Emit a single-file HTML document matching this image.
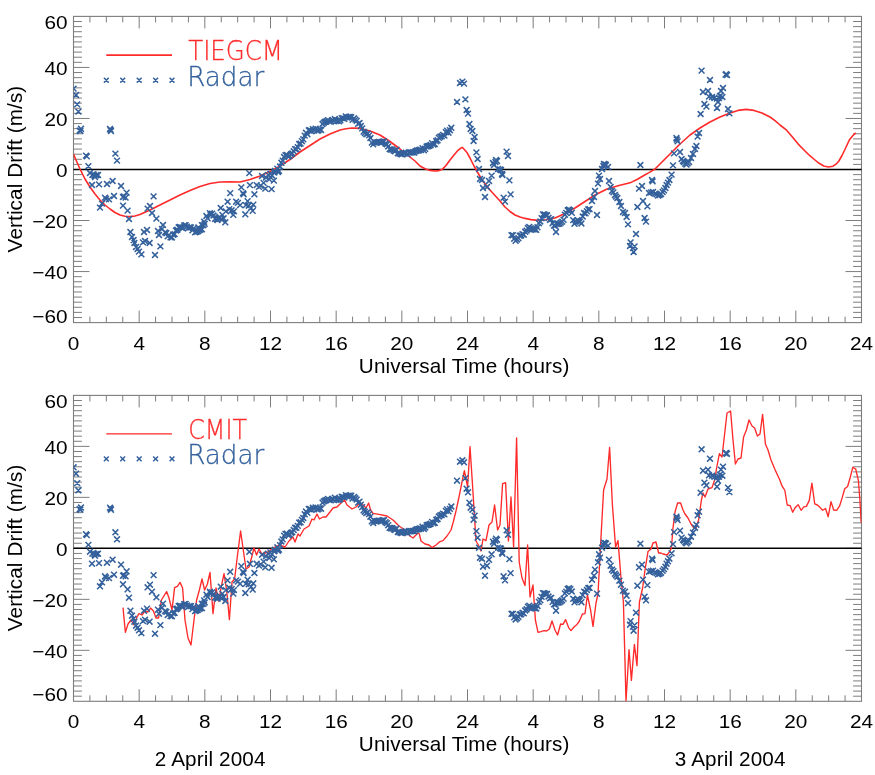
<!DOCTYPE html>
<html lang="en"><head><meta charset="utf-8"><title>Vertical Drift: TIEGCM / CMIT vs Radar</title>
<style>
html,body{margin:0;padding:0;background:#fff}
body{width:875px;height:775px;overflow:hidden}
svg{display:block}
text{font-family:"Liberation Sans",sans-serif;fill:#000}
.t{font-size:18.4px}
.l{font-size:20.7px;letter-spacing:0.12px}
.g{font-family:"DejaVu Sans Light","DejaVu Sans","Liberation Sans",sans-serif;font-weight:200;font-size:26px;stroke-width:0.28px}
</style></head><body>
<svg width="875" height="775" viewBox="0 0 875 775">
<rect width="875" height="775" fill="#fff"/>
<defs><clipPath id="c1"><rect x="73.5" y="16.4" width="788.0" height="306.20000000000005"/></clipPath><clipPath id="c2"><rect x="73.5" y="395.4" width="788.0" height="305.90000000000003"/></clipPath></defs>
<rect x="73.5" y="16.4" width="788.0" height="306.20000000000005" fill="none" stroke="#7d7d7d" stroke-width="1.1"/>
<path d="M89.92 16.4v6M89.92 322.6v-6M106.33 16.4v6M106.33 322.6v-6M122.75 16.4v6M122.75 322.6v-6M139.17 16.4v12M139.17 322.6v-12M155.58 16.4v6M155.58 322.6v-6M172.00 16.4v6M172.00 322.6v-6M188.42 16.4v6M188.42 322.6v-6M204.83 16.4v12M204.83 322.6v-12M221.25 16.4v6M221.25 322.6v-6M237.67 16.4v6M237.67 322.6v-6M254.08 16.4v6M254.08 322.6v-6M270.50 16.4v12M270.50 322.6v-12M286.92 16.4v6M286.92 322.6v-6M303.33 16.4v6M303.33 322.6v-6M319.75 16.4v6M319.75 322.6v-6M336.17 16.4v12M336.17 322.6v-12M352.58 16.4v6M352.58 322.6v-6M369.00 16.4v6M369.00 322.6v-6M385.42 16.4v6M385.42 322.6v-6M401.83 16.4v12M401.83 322.6v-12M418.25 16.4v6M418.25 322.6v-6M434.67 16.4v6M434.67 322.6v-6M451.08 16.4v6M451.08 322.6v-6M467.50 16.4v12M467.50 322.6v-12M483.92 16.4v6M483.92 322.6v-6M500.33 16.4v6M500.33 322.6v-6M516.75 16.4v6M516.75 322.6v-6M533.17 16.4v12M533.17 322.6v-12M549.58 16.4v6M549.58 322.6v-6M566.00 16.4v6M566.00 322.6v-6M582.42 16.4v6M582.42 322.6v-6M598.83 16.4v12M598.83 322.6v-12M615.25 16.4v6M615.25 322.6v-6M631.67 16.4v6M631.67 322.6v-6M648.08 16.4v6M648.08 322.6v-6M664.50 16.4v12M664.50 322.6v-12M680.92 16.4v6M680.92 322.6v-6M697.33 16.4v6M697.33 322.6v-6M713.75 16.4v6M713.75 322.6v-6M730.17 16.4v12M730.17 322.6v-12M746.58 16.4v6M746.58 322.6v-6M763.00 16.4v6M763.00 322.6v-6M779.42 16.4v6M779.42 322.6v-6M795.83 16.4v12M795.83 322.6v-12M812.25 16.4v6M812.25 322.6v-6M828.67 16.4v6M828.67 322.6v-6M845.08 16.4v6M845.08 322.6v-6M73.5 317.50h8.4M861.5 317.50h-8.4M73.5 312.39h8.4M861.5 312.39h-8.4M73.5 307.29h8.4M861.5 307.29h-8.4M73.5 302.19h8.4M861.5 302.19h-8.4M73.5 297.08h8.4M861.5 297.08h-8.4M73.5 291.98h8.4M861.5 291.98h-8.4M73.5 286.88h8.4M861.5 286.88h-8.4M73.5 281.77h8.4M861.5 281.77h-8.4M73.5 276.67h8.4M861.5 276.67h-8.4M73.5 271.57h16M861.5 271.57h-16M73.5 266.46h8.4M861.5 266.46h-8.4M73.5 261.36h8.4M861.5 261.36h-8.4M73.5 256.26h8.4M861.5 256.26h-8.4M73.5 251.15h8.4M861.5 251.15h-8.4M73.5 246.05h8.4M861.5 246.05h-8.4M73.5 240.95h8.4M861.5 240.95h-8.4M73.5 235.84h8.4M861.5 235.84h-8.4M73.5 230.74h8.4M861.5 230.74h-8.4M73.5 225.64h8.4M861.5 225.64h-8.4M73.5 220.53h16M861.5 220.53h-16M73.5 215.43h8.4M861.5 215.43h-8.4M73.5 210.33h8.4M861.5 210.33h-8.4M73.5 205.22h8.4M861.5 205.22h-8.4M73.5 200.12h8.4M861.5 200.12h-8.4M73.5 195.02h8.4M861.5 195.02h-8.4M73.5 189.91h8.4M861.5 189.91h-8.4M73.5 184.81h8.4M861.5 184.81h-8.4M73.5 179.71h8.4M861.5 179.71h-8.4M73.5 174.60h8.4M861.5 174.60h-8.4M73.5 169.50h16M861.5 169.50h-16M73.5 164.40h8.4M861.5 164.40h-8.4M73.5 159.29h8.4M861.5 159.29h-8.4M73.5 154.19h8.4M861.5 154.19h-8.4M73.5 149.09h8.4M861.5 149.09h-8.4M73.5 143.98h8.4M861.5 143.98h-8.4M73.5 138.88h8.4M861.5 138.88h-8.4M73.5 133.78h8.4M861.5 133.78h-8.4M73.5 128.67h8.4M861.5 128.67h-8.4M73.5 123.57h8.4M861.5 123.57h-8.4M73.5 118.47h16M861.5 118.47h-16M73.5 113.36h8.4M861.5 113.36h-8.4M73.5 108.26h8.4M861.5 108.26h-8.4M73.5 103.16h8.4M861.5 103.16h-8.4M73.5 98.05h8.4M861.5 98.05h-8.4M73.5 92.95h8.4M861.5 92.95h-8.4M73.5 87.85h8.4M861.5 87.85h-8.4M73.5 82.74h8.4M861.5 82.74h-8.4M73.5 77.64h8.4M861.5 77.64h-8.4M73.5 72.54h8.4M861.5 72.54h-8.4M73.5 67.43h16M861.5 67.43h-16M73.5 62.33h8.4M861.5 62.33h-8.4M73.5 57.23h8.4M861.5 57.23h-8.4M73.5 52.12h8.4M861.5 52.12h-8.4M73.5 47.02h8.4M861.5 47.02h-8.4M73.5 41.92h8.4M861.5 41.92h-8.4M73.5 36.81h8.4M861.5 36.81h-8.4M73.5 31.71h8.4M861.5 31.71h-8.4M73.5 26.61h8.4M861.5 26.61h-8.4M73.5 21.50h8.4M861.5 21.50h-8.4" fill="none" stroke="#7d7d7d" stroke-width="1"/>
<path d="M73.5 169.50H861.5" stroke="#000" stroke-width="1.5"/>
<text transform="translate(67.6 322.6) scale(1.13 1)" text-anchor="end" class="t">−60</text>
<text transform="translate(67.6 279.4) scale(1.13 1)" text-anchor="end" class="t">−40</text>
<text transform="translate(67.6 228.3) scale(1.13 1)" text-anchor="end" class="t">−20</text>
<text transform="translate(67.6 177.3) scale(1.13 1)" text-anchor="end" class="t">0</text>
<text transform="translate(67.6 126.3) scale(1.13 1)" text-anchor="end" class="t">20</text>
<text transform="translate(67.6 75.2) scale(1.13 1)" text-anchor="end" class="t">40</text>
<text transform="translate(67.6 29.2) scale(1.13 1)" text-anchor="end" class="t">60</text>
<text transform="translate(73.5 349.5) scale(1.13 1)" text-anchor="middle" class="t">0</text>
<text transform="translate(139.2 349.5) scale(1.13 1)" text-anchor="middle" class="t">4</text>
<text transform="translate(204.8 349.5) scale(1.13 1)" text-anchor="middle" class="t">8</text>
<text transform="translate(270.5 349.5) scale(1.13 1)" text-anchor="middle" class="t">12</text>
<text transform="translate(336.2 349.5) scale(1.13 1)" text-anchor="middle" class="t">16</text>
<text transform="translate(401.8 349.5) scale(1.13 1)" text-anchor="middle" class="t">20</text>
<text transform="translate(467.5 349.5) scale(1.13 1)" text-anchor="middle" class="t">24</text>
<text transform="translate(533.2 349.5) scale(1.13 1)" text-anchor="middle" class="t">4</text>
<text transform="translate(598.8 349.5) scale(1.13 1)" text-anchor="middle" class="t">8</text>
<text transform="translate(664.5 349.5) scale(1.13 1)" text-anchor="middle" class="t">12</text>
<text transform="translate(730.2 349.5) scale(1.13 1)" text-anchor="middle" class="t">16</text>
<text transform="translate(795.8 349.5) scale(1.13 1)" text-anchor="middle" class="t">20</text>
<text transform="translate(861.5 349.5) scale(1.13 1)" text-anchor="middle" class="t">24</text>
<text transform="translate(22 169.0) rotate(-90)" text-anchor="middle" class="l">Vertical Drift (m/s)</text>
<text x="464.2" y="372.6" text-anchor="middle" class="l">Universal Time (hours)</text>
<rect x="73.5" y="395.4" width="788.0" height="305.9000000000001" fill="none" stroke="#7d7d7d" stroke-width="1.1"/>
<path d="M89.92 395.4v6M89.92 701.3000000000001v-6M106.33 395.4v6M106.33 701.3000000000001v-6M122.75 395.4v6M122.75 701.3000000000001v-6M139.17 395.4v12M139.17 701.3000000000001v-12M155.58 395.4v6M155.58 701.3000000000001v-6M172.00 395.4v6M172.00 701.3000000000001v-6M188.42 395.4v6M188.42 701.3000000000001v-6M204.83 395.4v12M204.83 701.3000000000001v-12M221.25 395.4v6M221.25 701.3000000000001v-6M237.67 395.4v6M237.67 701.3000000000001v-6M254.08 395.4v6M254.08 701.3000000000001v-6M270.50 395.4v12M270.50 701.3000000000001v-12M286.92 395.4v6M286.92 701.3000000000001v-6M303.33 395.4v6M303.33 701.3000000000001v-6M319.75 395.4v6M319.75 701.3000000000001v-6M336.17 395.4v12M336.17 701.3000000000001v-12M352.58 395.4v6M352.58 701.3000000000001v-6M369.00 395.4v6M369.00 701.3000000000001v-6M385.42 395.4v6M385.42 701.3000000000001v-6M401.83 395.4v12M401.83 701.3000000000001v-12M418.25 395.4v6M418.25 701.3000000000001v-6M434.67 395.4v6M434.67 701.3000000000001v-6M451.08 395.4v6M451.08 701.3000000000001v-6M467.50 395.4v12M467.50 701.3000000000001v-12M483.92 395.4v6M483.92 701.3000000000001v-6M500.33 395.4v6M500.33 701.3000000000001v-6M516.75 395.4v6M516.75 701.3000000000001v-6M533.17 395.4v12M533.17 701.3000000000001v-12M549.58 395.4v6M549.58 701.3000000000001v-6M566.00 395.4v6M566.00 701.3000000000001v-6M582.42 395.4v6M582.42 701.3000000000001v-6M598.83 395.4v12M598.83 701.3000000000001v-12M615.25 395.4v6M615.25 701.3000000000001v-6M631.67 395.4v6M631.67 701.3000000000001v-6M648.08 395.4v6M648.08 701.3000000000001v-6M664.50 395.4v12M664.50 701.3000000000001v-12M680.92 395.4v6M680.92 701.3000000000001v-6M697.33 395.4v6M697.33 701.3000000000001v-6M713.75 395.4v6M713.75 701.3000000000001v-6M730.17 395.4v12M730.17 701.3000000000001v-12M746.58 395.4v6M746.58 701.3000000000001v-6M763.00 395.4v6M763.00 701.3000000000001v-6M779.42 395.4v6M779.42 701.3000000000001v-6M795.83 395.4v12M795.83 701.3000000000001v-12M812.25 395.4v6M812.25 701.3000000000001v-6M828.67 395.4v6M828.67 701.3000000000001v-6M845.08 395.4v6M845.08 701.3000000000001v-6M73.5 696.20h8.4M861.5 696.20h-8.4M73.5 691.10h8.4M861.5 691.10h-8.4M73.5 686.01h8.4M861.5 686.01h-8.4M73.5 680.91h8.4M861.5 680.91h-8.4M73.5 675.81h8.4M861.5 675.81h-8.4M73.5 670.71h8.4M861.5 670.71h-8.4M73.5 665.61h8.4M861.5 665.61h-8.4M73.5 660.51h8.4M861.5 660.51h-8.4M73.5 655.42h8.4M861.5 655.42h-8.4M73.5 650.32h16M861.5 650.32h-16M73.5 645.22h8.4M861.5 645.22h-8.4M73.5 640.12h8.4M861.5 640.12h-8.4M73.5 635.02h8.4M861.5 635.02h-8.4M73.5 629.92h8.4M861.5 629.92h-8.4M73.5 624.83h8.4M861.5 624.83h-8.4M73.5 619.73h8.4M861.5 619.73h-8.4M73.5 614.63h8.4M861.5 614.63h-8.4M73.5 609.53h8.4M861.5 609.53h-8.4M73.5 604.43h8.4M861.5 604.43h-8.4M73.5 599.33h16M861.5 599.33h-16M73.5 594.24h8.4M861.5 594.24h-8.4M73.5 589.14h8.4M861.5 589.14h-8.4M73.5 584.04h8.4M861.5 584.04h-8.4M73.5 578.94h8.4M861.5 578.94h-8.4M73.5 573.84h8.4M861.5 573.84h-8.4M73.5 568.74h8.4M861.5 568.74h-8.4M73.5 563.64h8.4M861.5 563.64h-8.4M73.5 558.55h8.4M861.5 558.55h-8.4M73.5 553.45h8.4M861.5 553.45h-8.4M73.5 548.35h16M861.5 548.35h-16M73.5 543.25h8.4M861.5 543.25h-8.4M73.5 538.15h8.4M861.5 538.15h-8.4M73.5 533.06h8.4M861.5 533.06h-8.4M73.5 527.96h8.4M861.5 527.96h-8.4M73.5 522.86h8.4M861.5 522.86h-8.4M73.5 517.76h8.4M861.5 517.76h-8.4M73.5 512.66h8.4M861.5 512.66h-8.4M73.5 507.56h8.4M861.5 507.56h-8.4M73.5 502.47h8.4M861.5 502.47h-8.4M73.5 497.37h16M861.5 497.37h-16M73.5 492.27h8.4M861.5 492.27h-8.4M73.5 487.17h8.4M861.5 487.17h-8.4M73.5 482.07h8.4M861.5 482.07h-8.4M73.5 476.97h8.4M861.5 476.97h-8.4M73.5 471.88h8.4M861.5 471.88h-8.4M73.5 466.78h8.4M861.5 466.78h-8.4M73.5 461.68h8.4M861.5 461.68h-8.4M73.5 456.58h8.4M861.5 456.58h-8.4M73.5 451.48h8.4M861.5 451.48h-8.4M73.5 446.38h16M861.5 446.38h-16M73.5 441.28h8.4M861.5 441.28h-8.4M73.5 436.19h8.4M861.5 436.19h-8.4M73.5 431.09h8.4M861.5 431.09h-8.4M73.5 425.99h8.4M861.5 425.99h-8.4M73.5 420.89h8.4M861.5 420.89h-8.4M73.5 415.79h8.4M861.5 415.79h-8.4M73.5 410.69h8.4M861.5 410.69h-8.4M73.5 405.60h8.4M861.5 405.60h-8.4M73.5 400.50h8.4M861.5 400.50h-8.4" fill="none" stroke="#7d7d7d" stroke-width="1"/>
<path d="M73.5 548.35H861.5" stroke="#000" stroke-width="1.5"/>
<text transform="translate(67.6 701.3) scale(1.13 1)" text-anchor="end" class="t">−60</text>
<text transform="translate(67.6 658.1) scale(1.13 1)" text-anchor="end" class="t">−40</text>
<text transform="translate(67.6 607.1) scale(1.13 1)" text-anchor="end" class="t">−20</text>
<text transform="translate(67.6 556.1) scale(1.13 1)" text-anchor="end" class="t">0</text>
<text transform="translate(67.6 505.2) scale(1.13 1)" text-anchor="end" class="t">20</text>
<text transform="translate(67.6 454.2) scale(1.13 1)" text-anchor="end" class="t">40</text>
<text transform="translate(67.6 408.2) scale(1.13 1)" text-anchor="end" class="t">60</text>
<text transform="translate(73.5 728.2) scale(1.13 1)" text-anchor="middle" class="t">0</text>
<text transform="translate(139.2 728.2) scale(1.13 1)" text-anchor="middle" class="t">4</text>
<text transform="translate(204.8 728.2) scale(1.13 1)" text-anchor="middle" class="t">8</text>
<text transform="translate(270.5 728.2) scale(1.13 1)" text-anchor="middle" class="t">12</text>
<text transform="translate(336.2 728.2) scale(1.13 1)" text-anchor="middle" class="t">16</text>
<text transform="translate(401.8 728.2) scale(1.13 1)" text-anchor="middle" class="t">20</text>
<text transform="translate(467.5 728.2) scale(1.13 1)" text-anchor="middle" class="t">24</text>
<text transform="translate(533.2 728.2) scale(1.13 1)" text-anchor="middle" class="t">4</text>
<text transform="translate(598.8 728.2) scale(1.13 1)" text-anchor="middle" class="t">8</text>
<text transform="translate(664.5 728.2) scale(1.13 1)" text-anchor="middle" class="t">12</text>
<text transform="translate(730.2 728.2) scale(1.13 1)" text-anchor="middle" class="t">16</text>
<text transform="translate(795.8 728.2) scale(1.13 1)" text-anchor="middle" class="t">20</text>
<text transform="translate(861.5 728.2) scale(1.13 1)" text-anchor="middle" class="t">24</text>
<text transform="translate(22 547.9) rotate(-90)" text-anchor="middle" class="l">Vertical Drift (m/s)</text>
<text x="464.2" y="751.3" text-anchor="middle" class="l">Universal Time (hours)</text>
<path clip-path="url(#c1)" d="M73.5 154.0L76.0 160.0L80.0 169.0L85.0 179.0L90.0 187.0L95.0 194.0L100.0 200.0L105.0 205.0L110.0 209.0L115.0 212.5L120.0 215.0L125.0 216.3L130.0 216.6L135.0 216.0L140.0 214.5L150.0 210.0L160.0 205.0L170.0 200.0L180.0 195.0L190.0 190.5L200.0 186.5L210.0 183.5L220.0 182.0L230.0 181.8L240.0 182.0L250.0 179.5L260.0 176.0L270.0 171.5L280.0 166.0L290.0 159.5L300.0 152.0L310.0 145.5L320.0 139.0L330.0 134.0L340.0 130.0L346.0 128.8L352.0 128.0L360.0 128.4L370.0 131.0L380.0 135.0L390.0 141.5L400.0 149.0L410.0 157.0L415.0 161.0L420.0 166.0L425.0 168.8L430.0 170.4L435.0 171.0L439.0 170.6L442.0 169.6L446.0 165.5L450.0 160.0L454.0 155.0L458.0 150.3L460.5 148.3L462.0 147.3L463.4 148.4L467.0 152.6L470.0 158.0L474.0 166.0L478.0 173.0L482.0 180.0L486.0 185.0L490.0 190.0L495.0 195.5L500.0 201.0L505.0 207.0L510.0 211.5L515.0 215.0L520.0 217.0L525.0 218.4L531.0 219.6L538.0 220.4L546.0 219.8L555.0 218.0L565.0 213.5L575.0 208.0L585.0 201.5L595.0 195.0L601.0 192.0L607.0 189.0L613.0 187.2L619.0 185.6L625.0 184.0L631.0 182.4L637.0 179.5L643.0 176.0L649.0 172.6L655.0 169.0L660.0 164.0L670.0 154.0L680.0 144.0L690.0 135.0L700.0 128.0L710.0 122.0L720.0 117.0L730.0 113.0L738.0 110.4L746.0 109.4L754.0 110.4L762.0 113.0L770.0 117.0L775.0 120.7L780.0 125.0L786.6 130.2L792.0 136.5L798.2 144.1L804.0 150.0L809.8 155.7L815.0 160.0L819.1 163.3L823.8 166.0L828.4 167.0L833.0 166.2L836.0 164.2L838.9 161.0L842.0 155.5L844.7 150.0L847.0 145.0L849.3 140.0L852.5 136.0L855.7 132.9" fill="none" stroke="#ff2a2a" stroke-width="1.6" stroke-linejoin="round"/>
<path clip-path="url(#c1)" d="M70.7 85.7l5.8 5.8m0 -5.8l-5.8 5.8M73.1 92.1l5.8 5.8m0 -5.8l-5.8 5.8M74.3 101.5l5.8 5.8m0 -5.8l-5.8 5.8M75.5 108.7l5.8 5.8m0 -5.8l-5.8 5.8M76.7 127.7l5.8 5.8m0 -5.8l-5.8 5.8M78.1 125.9l5.8 5.8m0 -5.8l-5.8 5.8M77.5 128.1l5.8 5.8m0 -5.8l-5.8 5.8M83.1 152.7l5.8 5.8m0 -5.8l-5.8 5.8M83.9 153.5l5.8 5.8m0 -5.8l-5.8 5.8M85.5 163.3l5.8 5.8m0 -5.8l-5.8 5.8M87.1 170.1l5.8 5.8m0 -5.8l-5.8 5.8M89.5 172.1l5.8 5.8m0 -5.8l-5.8 5.8M91.5 172.7l5.8 5.8m0 -5.8l-5.8 5.8M93.5 172.3l5.8 5.8m0 -5.8l-5.8 5.8M95.1 172.1l5.8 5.8m0 -5.8l-5.8 5.8M92.1 174.1l5.8 5.8m0 -5.8l-5.8 5.8M90.5 171.3l5.8 5.8m0 -5.8l-5.8 5.8M89.1 182.1l5.8 5.8m0 -5.8l-5.8 5.8M96.1 181.5l5.8 5.8m0 -5.8l-5.8 5.8M104.1 181.1l5.8 5.8m0 -5.8l-5.8 5.8M109.7 178.1l5.8 5.8m0 -5.8l-5.8 5.8M118.1 183.1l5.8 5.8m0 -5.8l-5.8 5.8M107.1 126.1l5.8 5.8m0 -5.8l-5.8 5.8M108.1 128.1l5.8 5.8m0 -5.8l-5.8 5.8M107.7 127.1l5.8 5.8m0 -5.8l-5.8 5.8M112.5 150.7l5.8 5.8m0 -5.8l-5.8 5.8M114.1 157.7l5.8 5.8m0 -5.8l-5.8 5.8M123.7 189.7l5.8 5.8m0 -5.8l-5.8 5.8M121.1 193.5l5.8 5.8m0 -5.8l-5.8 5.8M120.1 194.1l5.8 5.8m0 -5.8l-5.8 5.8M122.7 194.7l5.8 5.8m0 -5.8l-5.8 5.8M111.1 193.1l5.8 5.8m0 -5.8l-5.8 5.8M102.1 194.7l5.8 5.8m0 -5.8l-5.8 5.8M103.1 196.1l5.8 5.8m0 -5.8l-5.8 5.8M106.1 196.5l5.8 5.8m0 -5.8l-5.8 5.8M99.1 200.7l5.8 5.8m0 -5.8l-5.8 5.8M97.1 204.7l5.8 5.8m0 -5.8l-5.8 5.8M120.1 202.7l5.8 5.8m0 -5.8l-5.8 5.8M124.7 207.7l5.8 5.8m0 -5.8l-5.8 5.8M126.1 216.1l5.8 5.8m0 -5.8l-5.8 5.8M150.7 193.5l5.8 5.8m0 -5.8l-5.8 5.8M147.1 203.1l5.8 5.8m0 -5.8l-5.8 5.8M144.7 205.7l5.8 5.8m0 -5.8l-5.8 5.8M149.1 210.1l5.8 5.8m0 -5.8l-5.8 5.8M153.5 215.7l5.8 5.8m0 -5.8l-5.8 5.8M127.5 229.1l5.8 5.8m0 -5.8l-5.8 5.8M129.1 234.1l5.8 5.8m0 -5.8l-5.8 5.8M130.7 237.1l5.8 5.8m0 -5.8l-5.8 5.8M131.5 240.1l5.8 5.8m0 -5.8l-5.8 5.8M133.1 244.1l5.8 5.8m0 -5.8l-5.8 5.8M134.7 246.1l5.8 5.8m0 -5.8l-5.8 5.8M136.1 248.7l5.8 5.8m0 -5.8l-5.8 5.8M138.5 251.5l5.8 5.8m0 -5.8l-5.8 5.8M152.1 252.1l5.8 5.8m0 -5.8l-5.8 5.8M157.5 243.5l5.8 5.8m0 -5.8l-5.8 5.8M146.7 240.1l5.8 5.8m0 -5.8l-5.8 5.8M142.1 238.1l5.8 5.8m0 -5.8l-5.8 5.8M140.1 239.5l5.8 5.8m0 -5.8l-5.8 5.8M141.1 229.1l5.8 5.8m0 -5.8l-5.8 5.8M144.1 227.1l5.8 5.8m0 -5.8l-5.8 5.8M155.1 228.1l5.8 5.8m0 -5.8l-5.8 5.8M156.1 232.1l5.8 5.8m0 -5.8l-5.8 5.8M160.1 222.1l5.8 5.8m0 -5.8l-5.8 5.8M159.1 226.1l5.8 5.8m0 -5.8l-5.8 5.8M246.4 170.2l5.8 5.8m0 -5.8l-5.8 5.8M227.3 190.2l5.8 5.8m0 -5.8l-5.8 5.8M238.4 184.5l5.8 5.8m0 -5.8l-5.8 5.8M240.1 190.2l5.8 5.8m0 -5.8l-5.8 5.8M240.7 191.4l5.8 5.8m0 -5.8l-5.8 5.8M247.0 182.2l5.8 5.8m0 -5.8l-5.8 5.8M251.5 191.4l5.8 5.8m0 -5.8l-5.8 5.8M253.8 182.2l5.8 5.8m0 -5.8l-5.8 5.8M256.1 184.0l5.8 5.8m0 -5.8l-5.8 5.8M257.8 182.8l5.8 5.8m0 -5.8l-5.8 5.8M260.7 180.0l5.8 5.8m0 -5.8l-5.8 5.8M262.4 185.7l5.8 5.8m0 -5.8l-5.8 5.8M268.7 186.2l5.8 5.8m0 -5.8l-5.8 5.8M271.0 177.7l5.8 5.8m0 -5.8l-5.8 5.8M266.4 176.5l5.8 5.8m0 -5.8l-5.8 5.8M265.2 172.0l5.8 5.8m0 -5.8l-5.8 5.8M267.5 170.8l5.8 5.8m0 -5.8l-5.8 5.8M272.1 168.0l5.8 5.8m0 -5.8l-5.8 5.8M274.4 165.7l5.8 5.8m0 -5.8l-5.8 5.8M276.1 168.0l5.8 5.8m0 -5.8l-5.8 5.8M224.7 198.8l5.8 5.8m0 -5.8l-5.8 5.8M233.2 198.8l5.8 5.8m0 -5.8l-5.8 5.8M235.0 200.0l5.8 5.8m0 -5.8l-5.8 5.8M237.2 202.2l5.8 5.8m0 -5.8l-5.8 5.8M244.7 198.2l5.8 5.8m0 -5.8l-5.8 5.8M243.0 202.2l5.8 5.8m0 -5.8l-5.8 5.8M245.8 202.8l5.8 5.8m0 -5.8l-5.8 5.8M250.4 201.7l5.8 5.8m0 -5.8l-5.8 5.8M248.1 205.1l5.8 5.8m0 -5.8l-5.8 5.8M249.8 208.0l5.8 5.8m0 -5.8l-5.8 5.8M242.4 211.4l5.8 5.8m0 -5.8l-5.8 5.8M217.8 205.1l5.8 5.8m0 -5.8l-5.8 5.8M226.4 206.2l5.8 5.8m0 -5.8l-5.8 5.8M228.7 207.4l5.8 5.8m0 -5.8l-5.8 5.8M231.0 208.5l5.8 5.8m0 -5.8l-5.8 5.8M230.4 212.0l5.8 5.8m0 -5.8l-5.8 5.8M223.0 208.5l5.8 5.8m0 -5.8l-5.8 5.8M219.5 212.0l5.8 5.8m0 -5.8l-5.8 5.8M220.7 215.4l5.8 5.8m0 -5.8l-5.8 5.8M222.4 219.4l5.8 5.8m0 -5.8l-5.8 5.8M207.0 210.2l5.8 5.8m0 -5.8l-5.8 5.8M209.2 210.8l5.8 5.8m0 -5.8l-5.8 5.8M203.5 213.1l5.8 5.8m0 -5.8l-5.8 5.8M204.7 215.4l5.8 5.8m0 -5.8l-5.8 5.8M212.1 216.0l5.8 5.8m0 -5.8l-5.8 5.8M213.8 216.5l5.8 5.8m0 -5.8l-5.8 5.8M215.5 215.4l5.8 5.8m0 -5.8l-5.8 5.8M201.2 218.8l5.8 5.8m0 -5.8l-5.8 5.8M199.0 222.2l5.8 5.8m0 -5.8l-5.8 5.8M195.5 224.5l5.8 5.8m0 -5.8l-5.8 5.8M259.1 173.1l5.8 5.8m0 -5.8l-5.8 5.8M263.1 174.6l5.8 5.8m0 -5.8l-5.8 5.8M269.1 172.6l5.8 5.8m0 -5.8l-5.8 5.8M271.5 169.6l5.8 5.8m0 -5.8l-5.8 5.8M275.1 169.1l5.8 5.8m0 -5.8l-5.8 5.8M207.6 211.6l5.8 5.8m0 -5.8l-5.8 5.8M210.6 212.6l5.8 5.8m0 -5.8l-5.8 5.8M214.6 217.1l5.8 5.8m0 -5.8l-5.8 5.8M216.6 214.1l5.8 5.8m0 -5.8l-5.8 5.8M218.6 216.6l5.8 5.8m0 -5.8l-5.8 5.8M457.1 80.1l5.8 5.8m0 -5.8l-5.8 5.8M459.5 78.7l5.8 5.8m0 -5.8l-5.8 5.8M461.1 80.7l5.8 5.8m0 -5.8l-5.8 5.8M454.1 99.1l5.8 5.8m0 -5.8l-5.8 5.8M462.5 96.5l5.8 5.8m0 -5.8l-5.8 5.8M463.7 107.1l5.8 5.8m0 -5.8l-5.8 5.8M465.1 110.7l5.8 5.8m0 -5.8l-5.8 5.8M466.5 121.1l5.8 5.8m0 -5.8l-5.8 5.8M467.7 126.1l5.8 5.8m0 -5.8l-5.8 5.8M469.5 128.1l5.8 5.8m0 -5.8l-5.8 5.8M471.7 134.1l5.8 5.8m0 -5.8l-5.8 5.8M470.7 138.1l5.8 5.8m0 -5.8l-5.8 5.8M473.5 149.5l5.8 5.8m0 -5.8l-5.8 5.8M474.7 156.1l5.8 5.8m0 -5.8l-5.8 5.8M476.1 166.1l5.8 5.8m0 -5.8l-5.8 5.8M477.1 176.1l5.8 5.8m0 -5.8l-5.8 5.8M479.1 177.1l5.8 5.8m0 -5.8l-5.8 5.8M480.1 185.1l5.8 5.8m0 -5.8l-5.8 5.8M484.1 184.1l5.8 5.8m0 -5.8l-5.8 5.8M482.1 194.1l5.8 5.8m0 -5.8l-5.8 5.8M486.1 178.1l5.8 5.8m0 -5.8l-5.8 5.8M488.7 172.7l5.8 5.8m0 -5.8l-5.8 5.8M491.1 162.1l5.8 5.8m0 -5.8l-5.8 5.8M493.1 157.1l5.8 5.8m0 -5.8l-5.8 5.8M495.1 166.1l5.8 5.8m0 -5.8l-5.8 5.8M498.1 167.1l5.8 5.8m0 -5.8l-5.8 5.8M499.5 172.1l5.8 5.8m0 -5.8l-5.8 5.8M503.7 148.7l5.8 5.8m0 -5.8l-5.8 5.8M505.1 153.1l5.8 5.8m0 -5.8l-5.8 5.8M506.5 177.5l5.8 5.8m0 -5.8l-5.8 5.8M507.7 191.5l5.8 5.8m0 -5.8l-5.8 5.8M500.7 194.7l5.8 5.8m0 -5.8l-5.8 5.8M502.1 198.7l5.8 5.8m0 -5.8l-5.8 5.8M494.1 158.1l5.8 5.8m0 -5.8l-5.8 5.8M497.1 166.6l5.8 5.8m0 -5.8l-5.8 5.8M499.1 171.1l5.8 5.8m0 -5.8l-5.8 5.8M490.1 160.1l5.8 5.8m0 -5.8l-5.8 5.8M492.5 159.1l5.8 5.8m0 -5.8l-5.8 5.8M553.1 229.1l5.8 5.8m0 -5.8l-5.8 5.8M594.1 212.1l5.8 5.8m0 -5.8l-5.8 5.8M589.1 198.1l5.8 5.8m0 -5.8l-5.8 5.8M591.1 194.1l5.8 5.8m0 -5.8l-5.8 5.8M592.1 188.1l5.8 5.8m0 -5.8l-5.8 5.8M595.1 180.7l5.8 5.8m0 -5.8l-5.8 5.8M597.1 176.1l5.8 5.8m0 -5.8l-5.8 5.8M596.1 172.7l5.8 5.8m0 -5.8l-5.8 5.8M599.1 166.1l5.8 5.8m0 -5.8l-5.8 5.8M601.1 161.1l5.8 5.8m0 -5.8l-5.8 5.8M603.1 162.1l5.8 5.8m0 -5.8l-5.8 5.8M605.1 164.1l5.8 5.8m0 -5.8l-5.8 5.8M600.5 163.1l5.8 5.8m0 -5.8l-5.8 5.8M602.5 161.5l5.8 5.8m0 -5.8l-5.8 5.8M606.1 178.1l5.8 5.8m0 -5.8l-5.8 5.8M607.7 184.1l5.8 5.8m0 -5.8l-5.8 5.8M609.1 188.1l5.8 5.8m0 -5.8l-5.8 5.8M610.5 189.5l5.8 5.8m0 -5.8l-5.8 5.8M612.1 192.1l5.8 5.8m0 -5.8l-5.8 5.8M613.1 193.7l5.8 5.8m0 -5.8l-5.8 5.8M614.5 195.1l5.8 5.8m0 -5.8l-5.8 5.8M616.5 199.1l5.8 5.8m0 -5.8l-5.8 5.8M618.1 203.1l5.8 5.8m0 -5.8l-5.8 5.8M620.1 209.1l5.8 5.8m0 -5.8l-5.8 5.8M622.1 210.1l5.8 5.8m0 -5.8l-5.8 5.8M623.7 214.1l5.8 5.8m0 -5.8l-5.8 5.8M625.1 221.5l5.8 5.8m0 -5.8l-5.8 5.8M633.1 231.1l5.8 5.8m0 -5.8l-5.8 5.8M627.7 239.5l5.8 5.8m0 -5.8l-5.8 5.8M627.1 243.1l5.8 5.8m0 -5.8l-5.8 5.8M630.1 245.1l5.8 5.8m0 -5.8l-5.8 5.8M631.7 243.5l5.8 5.8m0 -5.8l-5.8 5.8M630.7 249.1l5.8 5.8m0 -5.8l-5.8 5.8M637.5 162.1l5.8 5.8m0 -5.8l-5.8 5.8M636.1 185.7l5.8 5.8m0 -5.8l-5.8 5.8M639.1 183.1l5.8 5.8m0 -5.8l-5.8 5.8M634.5 204.1l5.8 5.8m0 -5.8l-5.8 5.8M640.1 198.1l5.8 5.8m0 -5.8l-5.8 5.8M644.5 203.5l5.8 5.8m0 -5.8l-5.8 5.8M641.7 215.1l5.8 5.8m0 -5.8l-5.8 5.8M643.1 218.7l5.8 5.8m0 -5.8l-5.8 5.8M649.1 177.1l5.8 5.8m0 -5.8l-5.8 5.8M649.7 178.5l5.8 5.8m0 -5.8l-5.8 5.8M646.1 190.1l5.8 5.8m0 -5.8l-5.8 5.8M648.1 189.5l5.8 5.8m0 -5.8l-5.8 5.8M650.1 189.1l5.8 5.8m0 -5.8l-5.8 5.8M652.1 190.7l5.8 5.8m0 -5.8l-5.8 5.8M653.7 191.5l5.8 5.8m0 -5.8l-5.8 5.8M655.1 192.7l5.8 5.8m0 -5.8l-5.8 5.8M656.7 192.1l5.8 5.8m0 -5.8l-5.8 5.8M658.1 191.1l5.8 5.8m0 -5.8l-5.8 5.8M659.7 189.1l5.8 5.8m0 -5.8l-5.8 5.8M661.1 187.5l5.8 5.8m0 -5.8l-5.8 5.8M662.5 185.1l5.8 5.8m0 -5.8l-5.8 5.8M663.7 182.1l5.8 5.8m0 -5.8l-5.8 5.8M665.1 179.7l5.8 5.8m0 -5.8l-5.8 5.8M666.5 177.1l5.8 5.8m0 -5.8l-5.8 5.8M668.7 171.7l5.8 5.8m0 -5.8l-5.8 5.8M670.1 162.5l5.8 5.8m0 -5.8l-5.8 5.8M671.1 150.5l5.8 5.8m0 -5.8l-5.8 5.8M673.5 135.1l5.8 5.8m0 -5.8l-5.8 5.8M674.7 138.5l5.8 5.8m0 -5.8l-5.8 5.8M673.9 136.7l5.8 5.8m0 -5.8l-5.8 5.8M677.1 149.1l5.8 5.8m0 -5.8l-5.8 5.8M678.7 156.1l5.8 5.8m0 -5.8l-5.8 5.8M680.1 158.1l5.8 5.8m0 -5.8l-5.8 5.8M681.1 159.1l5.8 5.8m0 -5.8l-5.8 5.8M682.3 160.7l5.8 5.8m0 -5.8l-5.8 5.8M683.5 161.7l5.8 5.8m0 -5.8l-5.8 5.8M684.7 160.5l5.8 5.8m0 -5.8l-5.8 5.8M686.1 159.1l5.8 5.8m0 -5.8l-5.8 5.8M688.1 155.1l5.8 5.8m0 -5.8l-5.8 5.8M690.1 151.1l5.8 5.8m0 -5.8l-5.8 5.8M692.1 146.1l5.8 5.8m0 -5.8l-5.8 5.8M693.5 143.1l5.8 5.8m0 -5.8l-5.8 5.8M694.7 133.7l5.8 5.8m0 -5.8l-5.8 5.8M696.1 130.1l5.8 5.8m0 -5.8l-5.8 5.8M697.7 111.1l5.8 5.8m0 -5.8l-5.8 5.8M698.7 67.7l5.8 5.8m0 -5.8l-5.8 5.8M700.1 89.1l5.8 5.8m0 -5.8l-5.8 5.8M701.5 101.1l5.8 5.8m0 -5.8l-5.8 5.8M703.5 103.7l5.8 5.8m0 -5.8l-5.8 5.8M705.1 88.1l5.8 5.8m0 -5.8l-5.8 5.8M707.1 77.1l5.8 5.8m0 -5.8l-5.8 5.8M706.1 93.7l5.8 5.8m0 -5.8l-5.8 5.8M709.1 94.1l5.8 5.8m0 -5.8l-5.8 5.8M711.5 95.1l5.8 5.8m0 -5.8l-5.8 5.8M714.1 95.7l5.8 5.8m0 -5.8l-5.8 5.8M715.1 99.1l5.8 5.8m0 -5.8l-5.8 5.8M714.1 105.1l5.8 5.8m0 -5.8l-5.8 5.8M716.1 95.1l5.8 5.8m0 -5.8l-5.8 5.8M717.1 93.1l5.8 5.8m0 -5.8l-5.8 5.8M718.1 88.1l5.8 5.8m0 -5.8l-5.8 5.8M720.1 85.1l5.8 5.8m0 -5.8l-5.8 5.8M719.5 94.1l5.8 5.8m0 -5.8l-5.8 5.8M722.7 71.7l5.8 5.8m0 -5.8l-5.8 5.8M724.1 72.1l5.8 5.8m0 -5.8l-5.8 5.8M723.3 71.3l5.8 5.8m0 -5.8l-5.8 5.8M725.1 106.1l5.8 5.8m0 -5.8l-5.8 5.8M726.5 110.5l5.8 5.8m0 -5.8l-5.8 5.8M162.1 229.5l5.8 5.8m0 -5.8l-5.8 5.8M163.5 230.3l5.8 5.8m0 -5.8l-5.8 5.8M164.8 233.4l5.8 5.8m0 -5.8l-5.8 5.8M166.2 232.2l5.8 5.8m0 -5.8l-5.8 5.8M167.6 234.5l5.8 5.8m0 -5.8l-5.8 5.8M169.0 234.6l5.8 5.8m0 -5.8l-5.8 5.8M170.3 231.8l5.8 5.8m0 -5.8l-5.8 5.8M171.7 231.2l5.8 5.8m0 -5.8l-5.8 5.8M173.1 227.6l5.8 5.8m0 -5.8l-5.8 5.8M174.4 226.9l5.8 5.8m0 -5.8l-5.8 5.8M175.8 224.4l5.8 5.8m0 -5.8l-5.8 5.8M177.2 224.0l5.8 5.8m0 -5.8l-5.8 5.8M178.5 224.6l5.8 5.8m0 -5.8l-5.8 5.8M179.9 225.5l5.8 5.8m0 -5.8l-5.8 5.8M181.3 222.5l5.8 5.8m0 -5.8l-5.8 5.8M182.7 222.3l5.8 5.8m0 -5.8l-5.8 5.8M184.0 223.8l5.8 5.8m0 -5.8l-5.8 5.8M185.4 225.2l5.8 5.8m0 -5.8l-5.8 5.8M186.8 224.3l5.8 5.8m0 -5.8l-5.8 5.8M188.1 224.5l5.8 5.8m0 -5.8l-5.8 5.8M189.5 227.5l5.8 5.8m0 -5.8l-5.8 5.8M190.9 225.4l5.8 5.8m0 -5.8l-5.8 5.8M192.2 229.5l5.8 5.8m0 -5.8l-5.8 5.8M193.6 228.9l5.8 5.8m0 -5.8l-5.8 5.8M195.0 228.3l5.8 5.8m0 -5.8l-5.8 5.8M196.4 227.3l5.8 5.8m0 -5.8l-5.8 5.8M197.7 226.6l5.8 5.8m0 -5.8l-5.8 5.8M199.1 226.5l5.8 5.8m0 -5.8l-5.8 5.8M200.5 222.3l5.8 5.8m0 -5.8l-5.8 5.8M201.8 220.9l5.8 5.8m0 -5.8l-5.8 5.8M277.1 163.6l5.8 5.8m0 -5.8l-5.8 5.8M278.5 159.9l5.8 5.8m0 -5.8l-5.8 5.8M279.8 157.8l5.8 5.8m0 -5.8l-5.8 5.8M281.2 154.1l5.8 5.8m0 -5.8l-5.8 5.8M282.6 152.3l5.8 5.8m0 -5.8l-5.8 5.8M284.0 152.1l5.8 5.8m0 -5.8l-5.8 5.8M285.3 153.7l5.8 5.8m0 -5.8l-5.8 5.8M286.7 152.9l5.8 5.8m0 -5.8l-5.8 5.8M288.1 151.3l5.8 5.8m0 -5.8l-5.8 5.8M289.4 150.5l5.8 5.8m0 -5.8l-5.8 5.8M290.8 148.4l5.8 5.8m0 -5.8l-5.8 5.8M292.2 146.2l5.8 5.8m0 -5.8l-5.8 5.8M293.5 146.2l5.8 5.8m0 -5.8l-5.8 5.8M294.9 144.3l5.8 5.8m0 -5.8l-5.8 5.8M296.3 141.1l5.8 5.8m0 -5.8l-5.8 5.8M297.7 140.7l5.8 5.8m0 -5.8l-5.8 5.8M299.0 138.3l5.8 5.8m0 -5.8l-5.8 5.8M300.4 136.4l5.8 5.8m0 -5.8l-5.8 5.8M301.8 132.7l5.8 5.8m0 -5.8l-5.8 5.8M303.1 129.9l5.8 5.8m0 -5.8l-5.8 5.8M304.5 131.3l5.8 5.8m0 -5.8l-5.8 5.8M305.9 127.4l5.8 5.8m0 -5.8l-5.8 5.8M307.2 127.4l5.8 5.8m0 -5.8l-5.8 5.8M308.6 128.3l5.8 5.8m0 -5.8l-5.8 5.8M310.0 126.2l5.8 5.8m0 -5.8l-5.8 5.8M311.4 127.4l5.8 5.8m0 -5.8l-5.8 5.8M312.7 125.8l5.8 5.8m0 -5.8l-5.8 5.8M314.1 127.7l5.8 5.8m0 -5.8l-5.8 5.8M315.5 127.6l5.8 5.8m0 -5.8l-5.8 5.8M316.8 126.5l5.8 5.8m0 -5.8l-5.8 5.8M318.2 127.1l5.8 5.8m0 -5.8l-5.8 5.8M319.6 121.1l5.8 5.8m0 -5.8l-5.8 5.8M320.9 119.8l5.8 5.8m0 -5.8l-5.8 5.8M322.3 118.9l5.8 5.8m0 -5.8l-5.8 5.8M323.7 118.3l5.8 5.8m0 -5.8l-5.8 5.8M325.1 117.3l5.8 5.8m0 -5.8l-5.8 5.8M326.4 118.3l5.8 5.8m0 -5.8l-5.8 5.8M327.8 118.8l5.8 5.8m0 -5.8l-5.8 5.8M329.2 117.3l5.8 5.8m0 -5.8l-5.8 5.8M330.5 118.1l5.8 5.8m0 -5.8l-5.8 5.8M331.9 116.1l5.8 5.8m0 -5.8l-5.8 5.8M333.3 118.2l5.8 5.8m0 -5.8l-5.8 5.8M334.6 117.7l5.8 5.8m0 -5.8l-5.8 5.8M336.0 118.4l5.8 5.8m0 -5.8l-5.8 5.8M337.4 117.4l5.8 5.8m0 -5.8l-5.8 5.8M338.8 115.2l5.8 5.8m0 -5.8l-5.8 5.8M340.1 115.3l5.8 5.8m0 -5.8l-5.8 5.8M341.5 115.9l5.8 5.8m0 -5.8l-5.8 5.8M342.9 113.5l5.8 5.8m0 -5.8l-5.8 5.8M344.2 114.7l5.8 5.8m0 -5.8l-5.8 5.8M345.6 114.0l5.8 5.8m0 -5.8l-5.8 5.8M347.0 114.1l5.8 5.8m0 -5.8l-5.8 5.8M348.3 114.2l5.8 5.8m0 -5.8l-5.8 5.8M349.7 116.9l5.8 5.8m0 -5.8l-5.8 5.8M351.1 115.4l5.8 5.8m0 -5.8l-5.8 5.8M352.5 116.7l5.8 5.8m0 -5.8l-5.8 5.8M353.8 118.0l5.8 5.8m0 -5.8l-5.8 5.8M355.2 121.0l5.8 5.8m0 -5.8l-5.8 5.8M356.6 120.1l5.8 5.8m0 -5.8l-5.8 5.8M357.9 123.1l5.8 5.8m0 -5.8l-5.8 5.8M359.3 125.5l5.8 5.8m0 -5.8l-5.8 5.8M360.7 128.7l5.8 5.8m0 -5.8l-5.8 5.8M362.0 130.1l5.8 5.8m0 -5.8l-5.8 5.8M363.4 131.5l5.8 5.8m0 -5.8l-5.8 5.8M364.8 130.7l5.8 5.8m0 -5.8l-5.8 5.8M366.2 132.5l5.8 5.8m0 -5.8l-5.8 5.8M367.5 135.1l5.8 5.8m0 -5.8l-5.8 5.8M368.9 139.7l5.8 5.8m0 -5.8l-5.8 5.8M370.3 141.4l5.8 5.8m0 -5.8l-5.8 5.8M371.6 139.3l5.8 5.8m0 -5.8l-5.8 5.8M373.0 139.9l5.8 5.8m0 -5.8l-5.8 5.8M374.4 139.6l5.8 5.8m0 -5.8l-5.8 5.8M375.7 139.0l5.8 5.8m0 -5.8l-5.8 5.8M377.1 139.3l5.8 5.8m0 -5.8l-5.8 5.8M378.5 139.1l5.8 5.8m0 -5.8l-5.8 5.8M379.9 138.7l5.8 5.8m0 -5.8l-5.8 5.8M381.2 138.5l5.8 5.8m0 -5.8l-5.8 5.8M382.6 140.6l5.8 5.8m0 -5.8l-5.8 5.8M384.0 141.5l5.8 5.8m0 -5.8l-5.8 5.8M385.3 143.6l5.8 5.8m0 -5.8l-5.8 5.8M386.7 146.2l5.8 5.8m0 -5.8l-5.8 5.8M388.1 146.7l5.8 5.8m0 -5.8l-5.8 5.8M389.4 146.7l5.8 5.8m0 -5.8l-5.8 5.8M390.8 147.7l5.8 5.8m0 -5.8l-5.8 5.8M392.2 148.4l5.8 5.8m0 -5.8l-5.8 5.8M393.6 146.9l5.8 5.8m0 -5.8l-5.8 5.8M394.9 150.4l5.8 5.8m0 -5.8l-5.8 5.8M396.3 150.4l5.8 5.8m0 -5.8l-5.8 5.8M397.7 151.2l5.8 5.8m0 -5.8l-5.8 5.8M399.0 151.4l5.8 5.8m0 -5.8l-5.8 5.8M400.4 150.5l5.8 5.8m0 -5.8l-5.8 5.8M401.8 150.7l5.8 5.8m0 -5.8l-5.8 5.8M403.1 149.7l5.8 5.8m0 -5.8l-5.8 5.8M404.5 151.4l5.8 5.8m0 -5.8l-5.8 5.8M405.9 149.5l5.8 5.8m0 -5.8l-5.8 5.8M407.3 149.4l5.8 5.8m0 -5.8l-5.8 5.8M408.6 149.7l5.8 5.8m0 -5.8l-5.8 5.8M410.0 149.3l5.8 5.8m0 -5.8l-5.8 5.8M411.4 149.7l5.8 5.8m0 -5.8l-5.8 5.8M412.7 148.3l5.8 5.8m0 -5.8l-5.8 5.8M414.1 147.6l5.8 5.8m0 -5.8l-5.8 5.8M415.5 147.6l5.8 5.8m0 -5.8l-5.8 5.8M416.8 146.8l5.8 5.8m0 -5.8l-5.8 5.8M418.2 147.1l5.8 5.8m0 -5.8l-5.8 5.8M419.6 145.2l5.8 5.8m0 -5.8l-5.8 5.8M421.0 147.4l5.8 5.8m0 -5.8l-5.8 5.8M422.3 145.9l5.8 5.8m0 -5.8l-5.8 5.8M423.7 143.6l5.8 5.8m0 -5.8l-5.8 5.8M425.1 143.3l5.8 5.8m0 -5.8l-5.8 5.8M426.4 142.9l5.8 5.8m0 -5.8l-5.8 5.8M427.8 142.1l5.8 5.8m0 -5.8l-5.8 5.8M429.2 140.3l5.8 5.8m0 -5.8l-5.8 5.8M430.5 141.7l5.8 5.8m0 -5.8l-5.8 5.8M431.9 141.2l5.8 5.8m0 -5.8l-5.8 5.8M433.3 138.3l5.8 5.8m0 -5.8l-5.8 5.8M434.7 137.4l5.8 5.8m0 -5.8l-5.8 5.8M436.0 134.9l5.8 5.8m0 -5.8l-5.8 5.8M437.4 133.8l5.8 5.8m0 -5.8l-5.8 5.8M438.8 133.4l5.8 5.8m0 -5.8l-5.8 5.8M440.1 132.0l5.8 5.8m0 -5.8l-5.8 5.8M441.5 132.7l5.8 5.8m0 -5.8l-5.8 5.8M442.9 129.3l5.8 5.8m0 -5.8l-5.8 5.8M444.2 127.8l5.8 5.8m0 -5.8l-5.8 5.8M445.6 129.8l5.8 5.8m0 -5.8l-5.8 5.8M447.0 127.3l5.8 5.8m0 -5.8l-5.8 5.8M448.4 124.9l5.8 5.8m0 -5.8l-5.8 5.8M508.6 232.2l5.8 5.8m0 -5.8l-5.8 5.8M510.0 232.3l5.8 5.8m0 -5.8l-5.8 5.8M511.3 235.8l5.8 5.8m0 -5.8l-5.8 5.8M512.7 237.9l5.8 5.8m0 -5.8l-5.8 5.8M514.1 236.6l5.8 5.8m0 -5.8l-5.8 5.8M515.5 235.2l5.8 5.8m0 -5.8l-5.8 5.8M516.8 232.9l5.8 5.8m0 -5.8l-5.8 5.8M518.2 232.6l5.8 5.8m0 -5.8l-5.8 5.8M519.6 231.2l5.8 5.8m0 -5.8l-5.8 5.8M520.9 231.8l5.8 5.8m0 -5.8l-5.8 5.8M522.3 228.9l5.8 5.8m0 -5.8l-5.8 5.8M523.7 227.7l5.8 5.8m0 -5.8l-5.8 5.8M525.0 225.1l5.8 5.8m0 -5.8l-5.8 5.8M526.4 224.0l5.8 5.8m0 -5.8l-5.8 5.8M527.8 225.3l5.8 5.8m0 -5.8l-5.8 5.8M529.2 226.2l5.8 5.8m0 -5.8l-5.8 5.8M530.5 226.3l5.8 5.8m0 -5.8l-5.8 5.8M531.9 226.7l5.8 5.8m0 -5.8l-5.8 5.8M533.3 226.9l5.8 5.8m0 -5.8l-5.8 5.8M534.6 224.4l5.8 5.8m0 -5.8l-5.8 5.8M536.0 220.3l5.8 5.8m0 -5.8l-5.8 5.8M537.4 218.6l5.8 5.8m0 -5.8l-5.8 5.8M538.7 215.3l5.8 5.8m0 -5.8l-5.8 5.8M540.1 211.5l5.8 5.8m0 -5.8l-5.8 5.8M541.5 211.5l5.8 5.8m0 -5.8l-5.8 5.8M542.9 212.4l5.8 5.8m0 -5.8l-5.8 5.8M544.2 212.4l5.8 5.8m0 -5.8l-5.8 5.8M545.6 214.9l5.8 5.8m0 -5.8l-5.8 5.8M547.0 216.8l5.8 5.8m0 -5.8l-5.8 5.8M548.3 216.3l5.8 5.8m0 -5.8l-5.8 5.8M549.7 220.3l5.8 5.8m0 -5.8l-5.8 5.8M551.1 222.7l5.8 5.8m0 -5.8l-5.8 5.8M552.4 222.9l5.8 5.8m0 -5.8l-5.8 5.8M553.8 221.2l5.8 5.8m0 -5.8l-5.8 5.8M555.2 221.0l5.8 5.8m0 -5.8l-5.8 5.8M556.6 220.8l5.8 5.8m0 -5.8l-5.8 5.8M557.9 219.7l5.8 5.8m0 -5.8l-5.8 5.8M559.3 218.7l5.8 5.8m0 -5.8l-5.8 5.8M560.7 217.0l5.8 5.8m0 -5.8l-5.8 5.8M562.0 211.8l5.8 5.8m0 -5.8l-5.8 5.8M563.4 210.0l5.8 5.8m0 -5.8l-5.8 5.8M564.8 207.4l5.8 5.8m0 -5.8l-5.8 5.8M566.1 206.6l5.8 5.8m0 -5.8l-5.8 5.8M567.5 207.6l5.8 5.8m0 -5.8l-5.8 5.8M568.9 209.9l5.8 5.8m0 -5.8l-5.8 5.8M570.3 217.2l5.8 5.8m0 -5.8l-5.8 5.8M571.6 220.8l5.8 5.8m0 -5.8l-5.8 5.8M573.0 218.5l5.8 5.8m0 -5.8l-5.8 5.8M574.4 217.3l5.8 5.8m0 -5.8l-5.8 5.8M575.7 218.1l5.8 5.8m0 -5.8l-5.8 5.8M577.1 218.8l5.8 5.8m0 -5.8l-5.8 5.8M578.5 220.6l5.8 5.8m0 -5.8l-5.8 5.8M579.8 213.6l5.8 5.8m0 -5.8l-5.8 5.8M581.2 210.1l5.8 5.8m0 -5.8l-5.8 5.8M582.6 210.5l5.8 5.8m0 -5.8l-5.8 5.8M584.0 208.4l5.8 5.8m0 -5.8l-5.8 5.8M585.3 206.5l5.8 5.8m0 -5.8l-5.8 5.8M586.7 206.2l5.8 5.8m0 -5.8l-5.8 5.8" fill="none" stroke="#34619c" stroke-width="1.5"/>
<path clip-path="url(#c2)" d="M123.0 607.6L125.4 632.4L128.0 624.0L131.0 620.0L134.0 625.0L137.0 617.0L139.0 613.6L142.0 615.0L145.0 611.0L148.0 612.0L150.6 608.0L153.4 611.0L156.0 618.0L158.6 618.0L161.4 600.0L166.6 591.6L169.0 598.0L172.0 610.0L174.6 587.6L177.4 586.4L180.0 582.4L182.6 588.0L185.0 620.0L188.0 638.0L191.0 645.0L194.0 620.0L196.6 600.0L199.4 590.0L202.0 579.0L204.6 590.0L207.4 584.0L210.0 572.4L213.0 613.6L216.0 588.0L218.6 601.0L221.4 586.0L224.0 573.6L226.6 590.0L229.4 619.6L232.0 582.0L234.6 579.0L237.4 556.0L240.6 531.0L243.0 548.0L246.0 569.0L249.0 567.0L252.0 556.0L254.0 548.0L256.6 555.0L259.0 549.0L262.0 554.0L265.0 553.0L268.0 552.0L273.0 548.0L279.0 545.0L285.0 547.0L289.0 541.0L293.0 537.0L295.0 542.0L298.0 534.0L300.0 536.0L304.0 529.0L309.0 526.0L312.0 519.0L314.0 520.0L317.0 514.0L319.4 519.0L323.0 517.0L326.0 517.0L330.0 512.0L333.0 508.0L337.0 507.0L341.0 503.0L344.6 500.0L347.0 505.0L352.0 509.0L356.0 507.0L359.0 504.0L362.0 504.0L366.0 508.0L368.6 503.0L370.6 510.0L373.0 513.4L379.0 514.4L387.0 516.0L393.0 520.0L399.0 526.0L405.0 530.0L410.0 536.0L413.0 538.0L418.0 533.0L419.4 534.0L421.0 541.0L425.0 544.0L429.0 545.0L432.0 547.6L436.0 545.0L440.0 541.6L443.0 540.6L447.0 536.0L451.0 530.0L453.0 523.0L456.0 511.0L459.0 497.0L462.0 482.0L464.4 470.6L467.6 487.0L470.0 446.6L472.4 483.0L475.0 525.0L476.0 541.0L478.4 545.0L481.0 551.0L483.0 539.0L486.0 540.6L489.0 525.0L492.0 522.0L494.6 505.0L497.6 530.0L500.0 525.0L502.6 483.6L505.6 482.6L508.4 541.0L511.0 497.0L513.6 547.0L516.6 438.0L519.2 562.0L522.0 578.0L525.0 585.6L527.6 545.0L530.0 597.0L533.0 585.0L535.4 620.0L538.0 632.4L541.0 631.6L544.0 630.6L546.6 631.0L549.4 629.0L552.0 621.0L555.0 630.0L557.6 635.0L560.6 624.0L563.0 624.4L565.6 619.6L568.6 627.6L571.0 630.6L574.0 627.0L577.0 624.4L579.4 621.0L582.4 614.0L585.0 613.6L587.4 595.0L590.6 610.0L593.0 626.4L596.0 603.0L598.0 594.0L601.0 537.0L603.6 490.0L607.0 479.0L609.6 447.4L612.4 505.0L615.6 547.0L618.0 540.6L621.0 578.0L623.4 602.0L625.0 662.0L626.0 701.0L627.4 678.0L629.0 649.6L631.4 680.4L634.4 644.4L637.0 665.6L639.4 602.0L642.6 588.0L645.0 570.0L648.0 551.6L651.0 549.0L653.0 543.0L656.0 542.0L658.6 553.0L661.0 553.0L663.0 554.0L667.0 555.0L669.5 552.0L671.4 548.0L673.0 528.0L675.0 512.0L677.6 503.0L680.6 503.0L683.0 510.0L685.0 514.0L688.0 518.0L691.0 524.0L694.0 528.0L696.0 528.0L698.6 520.0L701.4 500.0L703.0 493.0L705.0 497.0L708.0 489.0L712.0 487.6L714.6 480.0L717.0 466.0L719.4 453.6L722.0 457.0L724.4 436.0L727.0 413.0L730.6 411.0L733.0 440.0L735.4 464.0L738.0 459.0L741.0 458.0L743.6 437.0L746.4 430.0L749.0 420.0L752.0 426.0L754.6 428.0L757.4 436.0L760.0 434.0L762.6 414.4L765.4 444.0L768.0 450.0L771.0 460.0L775.0 469.6L779.6 479.5L782.0 485.9L784.9 490.5L787.2 505.0L790.1 505.6L792.7 512.2L795.3 507.4L798.2 504.8L801.1 510.3L803.8 506.8L806.4 506.4L809.3 500.4L811.9 483.2L814.7 503.9L817.4 505.0L819.7 507.1L822.6 510.3L825.5 508.5L828.2 516.7L831.0 501.6L833.7 510.0L836.6 510.3L839.5 506.2L842.1 498.1L844.7 488.8L847.6 486.5L850.3 477.2L852.8 467.3L855.7 469.0L858.4 480.7L859.8 498.1L861.2 523.0" fill="none" stroke="#ff2a2a" stroke-width="1.35" stroke-linejoin="round"/>
<path clip-path="url(#c2)" d="M70.7 464.4l5.8 5.8m0 -5.8l-5.8 5.8M73.1 470.8l5.8 5.8m0 -5.8l-5.8 5.8M74.3 480.2l5.8 5.8m0 -5.8l-5.8 5.8M75.5 487.4l5.8 5.8m0 -5.8l-5.8 5.8M76.7 506.4l5.8 5.8m0 -5.8l-5.8 5.8M78.1 504.6l5.8 5.8m0 -5.8l-5.8 5.8M77.5 506.8l5.8 5.8m0 -5.8l-5.8 5.8M83.1 531.4l5.8 5.8m0 -5.8l-5.8 5.8M83.9 532.2l5.8 5.8m0 -5.8l-5.8 5.8M85.5 542.0l5.8 5.8m0 -5.8l-5.8 5.8M87.1 548.8l5.8 5.8m0 -5.8l-5.8 5.8M89.5 550.8l5.8 5.8m0 -5.8l-5.8 5.8M91.5 551.4l5.8 5.8m0 -5.8l-5.8 5.8M93.5 551.0l5.8 5.8m0 -5.8l-5.8 5.8M95.1 550.8l5.8 5.8m0 -5.8l-5.8 5.8M92.1 552.8l5.8 5.8m0 -5.8l-5.8 5.8M90.5 550.0l5.8 5.8m0 -5.8l-5.8 5.8M89.1 560.8l5.8 5.8m0 -5.8l-5.8 5.8M96.1 560.2l5.8 5.8m0 -5.8l-5.8 5.8M104.1 559.8l5.8 5.8m0 -5.8l-5.8 5.8M109.7 556.8l5.8 5.8m0 -5.8l-5.8 5.8M118.1 561.8l5.8 5.8m0 -5.8l-5.8 5.8M107.1 504.8l5.8 5.8m0 -5.8l-5.8 5.8M108.1 506.8l5.8 5.8m0 -5.8l-5.8 5.8M107.7 505.8l5.8 5.8m0 -5.8l-5.8 5.8M112.5 529.4l5.8 5.8m0 -5.8l-5.8 5.8M114.1 536.4l5.8 5.8m0 -5.8l-5.8 5.8M123.7 568.4l5.8 5.8m0 -5.8l-5.8 5.8M121.1 572.2l5.8 5.8m0 -5.8l-5.8 5.8M120.1 572.8l5.8 5.8m0 -5.8l-5.8 5.8M122.7 573.4l5.8 5.8m0 -5.8l-5.8 5.8M111.1 571.8l5.8 5.8m0 -5.8l-5.8 5.8M102.1 573.4l5.8 5.8m0 -5.8l-5.8 5.8M103.1 574.8l5.8 5.8m0 -5.8l-5.8 5.8M106.1 575.2l5.8 5.8m0 -5.8l-5.8 5.8M99.1 579.4l5.8 5.8m0 -5.8l-5.8 5.8M97.1 583.4l5.8 5.8m0 -5.8l-5.8 5.8M120.1 581.4l5.8 5.8m0 -5.8l-5.8 5.8M124.7 586.4l5.8 5.8m0 -5.8l-5.8 5.8M126.1 594.8l5.8 5.8m0 -5.8l-5.8 5.8M150.7 572.2l5.8 5.8m0 -5.8l-5.8 5.8M147.1 581.8l5.8 5.8m0 -5.8l-5.8 5.8M144.7 584.4l5.8 5.8m0 -5.8l-5.8 5.8M149.1 588.8l5.8 5.8m0 -5.8l-5.8 5.8M153.5 594.4l5.8 5.8m0 -5.8l-5.8 5.8M127.5 607.8l5.8 5.8m0 -5.8l-5.8 5.8M129.1 612.8l5.8 5.8m0 -5.8l-5.8 5.8M130.7 615.8l5.8 5.8m0 -5.8l-5.8 5.8M131.5 618.8l5.8 5.8m0 -5.8l-5.8 5.8M133.1 622.8l5.8 5.8m0 -5.8l-5.8 5.8M134.7 624.8l5.8 5.8m0 -5.8l-5.8 5.8M136.1 627.4l5.8 5.8m0 -5.8l-5.8 5.8M138.5 630.2l5.8 5.8m0 -5.8l-5.8 5.8M152.1 630.8l5.8 5.8m0 -5.8l-5.8 5.8M157.5 622.2l5.8 5.8m0 -5.8l-5.8 5.8M146.7 618.8l5.8 5.8m0 -5.8l-5.8 5.8M142.1 616.8l5.8 5.8m0 -5.8l-5.8 5.8M140.1 618.2l5.8 5.8m0 -5.8l-5.8 5.8M141.1 607.8l5.8 5.8m0 -5.8l-5.8 5.8M144.1 605.8l5.8 5.8m0 -5.8l-5.8 5.8M155.1 606.8l5.8 5.8m0 -5.8l-5.8 5.8M156.1 610.8l5.8 5.8m0 -5.8l-5.8 5.8M160.1 600.8l5.8 5.8m0 -5.8l-5.8 5.8M159.1 604.8l5.8 5.8m0 -5.8l-5.8 5.8M246.4 548.9l5.8 5.8m0 -5.8l-5.8 5.8M227.3 568.9l5.8 5.8m0 -5.8l-5.8 5.8M238.4 563.2l5.8 5.8m0 -5.8l-5.8 5.8M240.1 568.9l5.8 5.8m0 -5.8l-5.8 5.8M240.7 570.1l5.8 5.8m0 -5.8l-5.8 5.8M247.0 560.9l5.8 5.8m0 -5.8l-5.8 5.8M251.5 570.1l5.8 5.8m0 -5.8l-5.8 5.8M253.8 560.9l5.8 5.8m0 -5.8l-5.8 5.8M256.1 562.7l5.8 5.8m0 -5.8l-5.8 5.8M257.8 561.5l5.8 5.8m0 -5.8l-5.8 5.8M260.7 558.7l5.8 5.8m0 -5.8l-5.8 5.8M262.4 564.4l5.8 5.8m0 -5.8l-5.8 5.8M268.7 564.9l5.8 5.8m0 -5.8l-5.8 5.8M271.0 556.4l5.8 5.8m0 -5.8l-5.8 5.8M266.4 555.2l5.8 5.8m0 -5.8l-5.8 5.8M265.2 550.7l5.8 5.8m0 -5.8l-5.8 5.8M267.5 549.5l5.8 5.8m0 -5.8l-5.8 5.8M272.1 546.7l5.8 5.8m0 -5.8l-5.8 5.8M274.4 544.4l5.8 5.8m0 -5.8l-5.8 5.8M276.1 546.7l5.8 5.8m0 -5.8l-5.8 5.8M224.7 577.5l5.8 5.8m0 -5.8l-5.8 5.8M233.2 577.5l5.8 5.8m0 -5.8l-5.8 5.8M235.0 578.7l5.8 5.8m0 -5.8l-5.8 5.8M237.2 580.9l5.8 5.8m0 -5.8l-5.8 5.8M244.7 576.9l5.8 5.8m0 -5.8l-5.8 5.8M243.0 580.9l5.8 5.8m0 -5.8l-5.8 5.8M245.8 581.5l5.8 5.8m0 -5.8l-5.8 5.8M250.4 580.4l5.8 5.8m0 -5.8l-5.8 5.8M248.1 583.8l5.8 5.8m0 -5.8l-5.8 5.8M249.8 586.7l5.8 5.8m0 -5.8l-5.8 5.8M242.4 590.1l5.8 5.8m0 -5.8l-5.8 5.8M217.8 583.8l5.8 5.8m0 -5.8l-5.8 5.8M226.4 584.9l5.8 5.8m0 -5.8l-5.8 5.8M228.7 586.1l5.8 5.8m0 -5.8l-5.8 5.8M231.0 587.2l5.8 5.8m0 -5.8l-5.8 5.8M230.4 590.7l5.8 5.8m0 -5.8l-5.8 5.8M223.0 587.2l5.8 5.8m0 -5.8l-5.8 5.8M219.5 590.7l5.8 5.8m0 -5.8l-5.8 5.8M220.7 594.1l5.8 5.8m0 -5.8l-5.8 5.8M222.4 598.1l5.8 5.8m0 -5.8l-5.8 5.8M207.0 588.9l5.8 5.8m0 -5.8l-5.8 5.8M209.2 589.5l5.8 5.8m0 -5.8l-5.8 5.8M203.5 591.8l5.8 5.8m0 -5.8l-5.8 5.8M204.7 594.1l5.8 5.8m0 -5.8l-5.8 5.8M212.1 594.7l5.8 5.8m0 -5.8l-5.8 5.8M213.8 595.2l5.8 5.8m0 -5.8l-5.8 5.8M215.5 594.1l5.8 5.8m0 -5.8l-5.8 5.8M201.2 597.5l5.8 5.8m0 -5.8l-5.8 5.8M199.0 600.9l5.8 5.8m0 -5.8l-5.8 5.8M195.5 603.2l5.8 5.8m0 -5.8l-5.8 5.8M259.1 551.8l5.8 5.8m0 -5.8l-5.8 5.8M263.1 553.3l5.8 5.8m0 -5.8l-5.8 5.8M269.1 551.3l5.8 5.8m0 -5.8l-5.8 5.8M271.5 548.3l5.8 5.8m0 -5.8l-5.8 5.8M275.1 547.8l5.8 5.8m0 -5.8l-5.8 5.8M207.6 590.3l5.8 5.8m0 -5.8l-5.8 5.8M210.6 591.3l5.8 5.8m0 -5.8l-5.8 5.8M214.6 595.8l5.8 5.8m0 -5.8l-5.8 5.8M216.6 592.8l5.8 5.8m0 -5.8l-5.8 5.8M218.6 595.3l5.8 5.8m0 -5.8l-5.8 5.8M457.1 458.8l5.8 5.8m0 -5.8l-5.8 5.8M459.5 457.4l5.8 5.8m0 -5.8l-5.8 5.8M461.1 459.4l5.8 5.8m0 -5.8l-5.8 5.8M454.1 477.8l5.8 5.8m0 -5.8l-5.8 5.8M462.5 475.2l5.8 5.8m0 -5.8l-5.8 5.8M463.7 485.8l5.8 5.8m0 -5.8l-5.8 5.8M465.1 489.4l5.8 5.8m0 -5.8l-5.8 5.8M466.5 499.8l5.8 5.8m0 -5.8l-5.8 5.8M467.7 504.8l5.8 5.8m0 -5.8l-5.8 5.8M469.5 506.8l5.8 5.8m0 -5.8l-5.8 5.8M471.7 512.8l5.8 5.8m0 -5.8l-5.8 5.8M470.7 516.8l5.8 5.8m0 -5.8l-5.8 5.8M473.5 528.2l5.8 5.8m0 -5.8l-5.8 5.8M474.7 534.8l5.8 5.8m0 -5.8l-5.8 5.8M476.1 544.8l5.8 5.8m0 -5.8l-5.8 5.8M477.1 554.8l5.8 5.8m0 -5.8l-5.8 5.8M479.1 555.8l5.8 5.8m0 -5.8l-5.8 5.8M480.1 563.8l5.8 5.8m0 -5.8l-5.8 5.8M484.1 562.8l5.8 5.8m0 -5.8l-5.8 5.8M482.1 572.8l5.8 5.8m0 -5.8l-5.8 5.8M486.1 556.8l5.8 5.8m0 -5.8l-5.8 5.8M488.7 551.4l5.8 5.8m0 -5.8l-5.8 5.8M491.1 540.8l5.8 5.8m0 -5.8l-5.8 5.8M493.1 535.8l5.8 5.8m0 -5.8l-5.8 5.8M495.1 544.8l5.8 5.8m0 -5.8l-5.8 5.8M498.1 545.8l5.8 5.8m0 -5.8l-5.8 5.8M499.5 550.8l5.8 5.8m0 -5.8l-5.8 5.8M503.7 527.4l5.8 5.8m0 -5.8l-5.8 5.8M505.1 531.8l5.8 5.8m0 -5.8l-5.8 5.8M506.5 556.2l5.8 5.8m0 -5.8l-5.8 5.8M507.7 570.2l5.8 5.8m0 -5.8l-5.8 5.8M500.7 573.4l5.8 5.8m0 -5.8l-5.8 5.8M502.1 577.4l5.8 5.8m0 -5.8l-5.8 5.8M494.1 536.8l5.8 5.8m0 -5.8l-5.8 5.8M497.1 545.3l5.8 5.8m0 -5.8l-5.8 5.8M499.1 549.8l5.8 5.8m0 -5.8l-5.8 5.8M490.1 538.8l5.8 5.8m0 -5.8l-5.8 5.8M492.5 537.8l5.8 5.8m0 -5.8l-5.8 5.8M553.1 607.8l5.8 5.8m0 -5.8l-5.8 5.8M594.1 590.8l5.8 5.8m0 -5.8l-5.8 5.8M589.1 576.8l5.8 5.8m0 -5.8l-5.8 5.8M591.1 572.8l5.8 5.8m0 -5.8l-5.8 5.8M592.1 566.8l5.8 5.8m0 -5.8l-5.8 5.8M595.1 559.4l5.8 5.8m0 -5.8l-5.8 5.8M597.1 554.8l5.8 5.8m0 -5.8l-5.8 5.8M596.1 551.4l5.8 5.8m0 -5.8l-5.8 5.8M599.1 544.8l5.8 5.8m0 -5.8l-5.8 5.8M601.1 539.8l5.8 5.8m0 -5.8l-5.8 5.8M603.1 540.8l5.8 5.8m0 -5.8l-5.8 5.8M605.1 542.8l5.8 5.8m0 -5.8l-5.8 5.8M600.5 541.8l5.8 5.8m0 -5.8l-5.8 5.8M602.5 540.2l5.8 5.8m0 -5.8l-5.8 5.8M606.1 556.8l5.8 5.8m0 -5.8l-5.8 5.8M607.7 562.8l5.8 5.8m0 -5.8l-5.8 5.8M609.1 566.8l5.8 5.8m0 -5.8l-5.8 5.8M610.5 568.2l5.8 5.8m0 -5.8l-5.8 5.8M612.1 570.8l5.8 5.8m0 -5.8l-5.8 5.8M613.1 572.4l5.8 5.8m0 -5.8l-5.8 5.8M614.5 573.8l5.8 5.8m0 -5.8l-5.8 5.8M616.5 577.8l5.8 5.8m0 -5.8l-5.8 5.8M618.1 581.8l5.8 5.8m0 -5.8l-5.8 5.8M620.1 587.8l5.8 5.8m0 -5.8l-5.8 5.8M622.1 588.8l5.8 5.8m0 -5.8l-5.8 5.8M623.7 592.8l5.8 5.8m0 -5.8l-5.8 5.8M625.1 600.2l5.8 5.8m0 -5.8l-5.8 5.8M633.1 609.8l5.8 5.8m0 -5.8l-5.8 5.8M627.7 618.2l5.8 5.8m0 -5.8l-5.8 5.8M627.1 621.8l5.8 5.8m0 -5.8l-5.8 5.8M630.1 623.8l5.8 5.8m0 -5.8l-5.8 5.8M631.7 622.2l5.8 5.8m0 -5.8l-5.8 5.8M630.7 627.8l5.8 5.8m0 -5.8l-5.8 5.8M637.5 540.8l5.8 5.8m0 -5.8l-5.8 5.8M636.1 564.4l5.8 5.8m0 -5.8l-5.8 5.8M639.1 561.8l5.8 5.8m0 -5.8l-5.8 5.8M634.5 582.8l5.8 5.8m0 -5.8l-5.8 5.8M640.1 576.8l5.8 5.8m0 -5.8l-5.8 5.8M644.5 582.2l5.8 5.8m0 -5.8l-5.8 5.8M641.7 593.8l5.8 5.8m0 -5.8l-5.8 5.8M643.1 597.4l5.8 5.8m0 -5.8l-5.8 5.8M649.1 555.8l5.8 5.8m0 -5.8l-5.8 5.8M649.7 557.2l5.8 5.8m0 -5.8l-5.8 5.8M646.1 568.8l5.8 5.8m0 -5.8l-5.8 5.8M648.1 568.2l5.8 5.8m0 -5.8l-5.8 5.8M650.1 567.8l5.8 5.8m0 -5.8l-5.8 5.8M652.1 569.4l5.8 5.8m0 -5.8l-5.8 5.8M653.7 570.2l5.8 5.8m0 -5.8l-5.8 5.8M655.1 571.4l5.8 5.8m0 -5.8l-5.8 5.8M656.7 570.8l5.8 5.8m0 -5.8l-5.8 5.8M658.1 569.8l5.8 5.8m0 -5.8l-5.8 5.8M659.7 567.8l5.8 5.8m0 -5.8l-5.8 5.8M661.1 566.2l5.8 5.8m0 -5.8l-5.8 5.8M662.5 563.8l5.8 5.8m0 -5.8l-5.8 5.8M663.7 560.8l5.8 5.8m0 -5.8l-5.8 5.8M665.1 558.4l5.8 5.8m0 -5.8l-5.8 5.8M666.5 555.8l5.8 5.8m0 -5.8l-5.8 5.8M668.7 550.4l5.8 5.8m0 -5.8l-5.8 5.8M670.1 541.2l5.8 5.8m0 -5.8l-5.8 5.8M671.1 529.2l5.8 5.8m0 -5.8l-5.8 5.8M673.5 513.8l5.8 5.8m0 -5.8l-5.8 5.8M674.7 517.2l5.8 5.8m0 -5.8l-5.8 5.8M673.9 515.4l5.8 5.8m0 -5.8l-5.8 5.8M677.1 527.8l5.8 5.8m0 -5.8l-5.8 5.8M678.7 534.8l5.8 5.8m0 -5.8l-5.8 5.8M680.1 536.8l5.8 5.8m0 -5.8l-5.8 5.8M681.1 537.8l5.8 5.8m0 -5.8l-5.8 5.8M682.3 539.4l5.8 5.8m0 -5.8l-5.8 5.8M683.5 540.4l5.8 5.8m0 -5.8l-5.8 5.8M684.7 539.2l5.8 5.8m0 -5.8l-5.8 5.8M686.1 537.8l5.8 5.8m0 -5.8l-5.8 5.8M688.1 533.8l5.8 5.8m0 -5.8l-5.8 5.8M690.1 529.8l5.8 5.8m0 -5.8l-5.8 5.8M692.1 524.8l5.8 5.8m0 -5.8l-5.8 5.8M693.5 521.8l5.8 5.8m0 -5.8l-5.8 5.8M694.7 512.4l5.8 5.8m0 -5.8l-5.8 5.8M696.1 508.8l5.8 5.8m0 -5.8l-5.8 5.8M697.7 489.8l5.8 5.8m0 -5.8l-5.8 5.8M698.7 446.4l5.8 5.8m0 -5.8l-5.8 5.8M700.1 467.8l5.8 5.8m0 -5.8l-5.8 5.8M701.5 479.8l5.8 5.8m0 -5.8l-5.8 5.8M703.5 482.4l5.8 5.8m0 -5.8l-5.8 5.8M705.1 466.8l5.8 5.8m0 -5.8l-5.8 5.8M707.1 455.8l5.8 5.8m0 -5.8l-5.8 5.8M706.1 472.4l5.8 5.8m0 -5.8l-5.8 5.8M709.1 472.8l5.8 5.8m0 -5.8l-5.8 5.8M711.5 473.8l5.8 5.8m0 -5.8l-5.8 5.8M714.1 474.4l5.8 5.8m0 -5.8l-5.8 5.8M715.1 477.8l5.8 5.8m0 -5.8l-5.8 5.8M714.1 483.8l5.8 5.8m0 -5.8l-5.8 5.8M716.1 473.8l5.8 5.8m0 -5.8l-5.8 5.8M717.1 471.8l5.8 5.8m0 -5.8l-5.8 5.8M718.1 466.8l5.8 5.8m0 -5.8l-5.8 5.8M720.1 463.8l5.8 5.8m0 -5.8l-5.8 5.8M719.5 472.8l5.8 5.8m0 -5.8l-5.8 5.8M722.7 450.4l5.8 5.8m0 -5.8l-5.8 5.8M724.1 450.8l5.8 5.8m0 -5.8l-5.8 5.8M723.3 450.0l5.8 5.8m0 -5.8l-5.8 5.8M725.1 484.8l5.8 5.8m0 -5.8l-5.8 5.8M726.5 489.2l5.8 5.8m0 -5.8l-5.8 5.8M162.1 608.2l5.8 5.8m0 -5.8l-5.8 5.8M163.5 609.0l5.8 5.8m0 -5.8l-5.8 5.8M164.8 612.1l5.8 5.8m0 -5.8l-5.8 5.8M166.2 610.9l5.8 5.8m0 -5.8l-5.8 5.8M167.6 613.2l5.8 5.8m0 -5.8l-5.8 5.8M169.0 613.3l5.8 5.8m0 -5.8l-5.8 5.8M170.3 610.5l5.8 5.8m0 -5.8l-5.8 5.8M171.7 609.9l5.8 5.8m0 -5.8l-5.8 5.8M173.1 606.3l5.8 5.8m0 -5.8l-5.8 5.8M174.4 605.6l5.8 5.8m0 -5.8l-5.8 5.8M175.8 603.1l5.8 5.8m0 -5.8l-5.8 5.8M177.2 602.7l5.8 5.8m0 -5.8l-5.8 5.8M178.5 603.3l5.8 5.8m0 -5.8l-5.8 5.8M179.9 604.2l5.8 5.8m0 -5.8l-5.8 5.8M181.3 601.2l5.8 5.8m0 -5.8l-5.8 5.8M182.7 601.0l5.8 5.8m0 -5.8l-5.8 5.8M184.0 602.5l5.8 5.8m0 -5.8l-5.8 5.8M185.4 603.9l5.8 5.8m0 -5.8l-5.8 5.8M186.8 603.0l5.8 5.8m0 -5.8l-5.8 5.8M188.1 603.2l5.8 5.8m0 -5.8l-5.8 5.8M189.5 606.2l5.8 5.8m0 -5.8l-5.8 5.8M190.9 604.1l5.8 5.8m0 -5.8l-5.8 5.8M192.2 608.2l5.8 5.8m0 -5.8l-5.8 5.8M193.6 607.6l5.8 5.8m0 -5.8l-5.8 5.8M195.0 607.0l5.8 5.8m0 -5.8l-5.8 5.8M196.4 606.0l5.8 5.8m0 -5.8l-5.8 5.8M197.7 605.3l5.8 5.8m0 -5.8l-5.8 5.8M199.1 605.2l5.8 5.8m0 -5.8l-5.8 5.8M200.5 601.0l5.8 5.8m0 -5.8l-5.8 5.8M201.8 599.6l5.8 5.8m0 -5.8l-5.8 5.8M277.1 542.3l5.8 5.8m0 -5.8l-5.8 5.8M278.5 538.6l5.8 5.8m0 -5.8l-5.8 5.8M279.8 536.5l5.8 5.8m0 -5.8l-5.8 5.8M281.2 532.8l5.8 5.8m0 -5.8l-5.8 5.8M282.6 531.0l5.8 5.8m0 -5.8l-5.8 5.8M284.0 530.8l5.8 5.8m0 -5.8l-5.8 5.8M285.3 532.4l5.8 5.8m0 -5.8l-5.8 5.8M286.7 531.6l5.8 5.8m0 -5.8l-5.8 5.8M288.1 530.0l5.8 5.8m0 -5.8l-5.8 5.8M289.4 529.2l5.8 5.8m0 -5.8l-5.8 5.8M290.8 527.1l5.8 5.8m0 -5.8l-5.8 5.8M292.2 524.9l5.8 5.8m0 -5.8l-5.8 5.8M293.5 524.9l5.8 5.8m0 -5.8l-5.8 5.8M294.9 523.0l5.8 5.8m0 -5.8l-5.8 5.8M296.3 519.8l5.8 5.8m0 -5.8l-5.8 5.8M297.7 519.4l5.8 5.8m0 -5.8l-5.8 5.8M299.0 517.0l5.8 5.8m0 -5.8l-5.8 5.8M300.4 515.1l5.8 5.8m0 -5.8l-5.8 5.8M301.8 511.4l5.8 5.8m0 -5.8l-5.8 5.8M303.1 508.6l5.8 5.8m0 -5.8l-5.8 5.8M304.5 510.0l5.8 5.8m0 -5.8l-5.8 5.8M305.9 506.1l5.8 5.8m0 -5.8l-5.8 5.8M307.2 506.1l5.8 5.8m0 -5.8l-5.8 5.8M308.6 507.0l5.8 5.8m0 -5.8l-5.8 5.8M310.0 504.9l5.8 5.8m0 -5.8l-5.8 5.8M311.4 506.1l5.8 5.8m0 -5.8l-5.8 5.8M312.7 504.5l5.8 5.8m0 -5.8l-5.8 5.8M314.1 506.4l5.8 5.8m0 -5.8l-5.8 5.8M315.5 506.3l5.8 5.8m0 -5.8l-5.8 5.8M316.8 505.2l5.8 5.8m0 -5.8l-5.8 5.8M318.2 505.8l5.8 5.8m0 -5.8l-5.8 5.8M319.6 499.8l5.8 5.8m0 -5.8l-5.8 5.8M320.9 498.5l5.8 5.8m0 -5.8l-5.8 5.8M322.3 497.6l5.8 5.8m0 -5.8l-5.8 5.8M323.7 497.0l5.8 5.8m0 -5.8l-5.8 5.8M325.1 496.0l5.8 5.8m0 -5.8l-5.8 5.8M326.4 497.0l5.8 5.8m0 -5.8l-5.8 5.8M327.8 497.5l5.8 5.8m0 -5.8l-5.8 5.8M329.2 496.0l5.8 5.8m0 -5.8l-5.8 5.8M330.5 496.8l5.8 5.8m0 -5.8l-5.8 5.8M331.9 494.8l5.8 5.8m0 -5.8l-5.8 5.8M333.3 496.9l5.8 5.8m0 -5.8l-5.8 5.8M334.6 496.4l5.8 5.8m0 -5.8l-5.8 5.8M336.0 497.1l5.8 5.8m0 -5.8l-5.8 5.8M337.4 496.1l5.8 5.8m0 -5.8l-5.8 5.8M338.8 493.9l5.8 5.8m0 -5.8l-5.8 5.8M340.1 494.0l5.8 5.8m0 -5.8l-5.8 5.8M341.5 494.6l5.8 5.8m0 -5.8l-5.8 5.8M342.9 492.2l5.8 5.8m0 -5.8l-5.8 5.8M344.2 493.4l5.8 5.8m0 -5.8l-5.8 5.8M345.6 492.7l5.8 5.8m0 -5.8l-5.8 5.8M347.0 492.8l5.8 5.8m0 -5.8l-5.8 5.8M348.3 492.9l5.8 5.8m0 -5.8l-5.8 5.8M349.7 495.6l5.8 5.8m0 -5.8l-5.8 5.8M351.1 494.1l5.8 5.8m0 -5.8l-5.8 5.8M352.5 495.4l5.8 5.8m0 -5.8l-5.8 5.8M353.8 496.7l5.8 5.8m0 -5.8l-5.8 5.8M355.2 499.7l5.8 5.8m0 -5.8l-5.8 5.8M356.6 498.8l5.8 5.8m0 -5.8l-5.8 5.8M357.9 501.8l5.8 5.8m0 -5.8l-5.8 5.8M359.3 504.2l5.8 5.8m0 -5.8l-5.8 5.8M360.7 507.4l5.8 5.8m0 -5.8l-5.8 5.8M362.0 508.8l5.8 5.8m0 -5.8l-5.8 5.8M363.4 510.2l5.8 5.8m0 -5.8l-5.8 5.8M364.8 509.4l5.8 5.8m0 -5.8l-5.8 5.8M366.2 511.2l5.8 5.8m0 -5.8l-5.8 5.8M367.5 513.8l5.8 5.8m0 -5.8l-5.8 5.8M368.9 518.4l5.8 5.8m0 -5.8l-5.8 5.8M370.3 520.1l5.8 5.8m0 -5.8l-5.8 5.8M371.6 518.0l5.8 5.8m0 -5.8l-5.8 5.8M373.0 518.6l5.8 5.8m0 -5.8l-5.8 5.8M374.4 518.3l5.8 5.8m0 -5.8l-5.8 5.8M375.7 517.7l5.8 5.8m0 -5.8l-5.8 5.8M377.1 518.0l5.8 5.8m0 -5.8l-5.8 5.8M378.5 517.8l5.8 5.8m0 -5.8l-5.8 5.8M379.9 517.4l5.8 5.8m0 -5.8l-5.8 5.8M381.2 517.2l5.8 5.8m0 -5.8l-5.8 5.8M382.6 519.3l5.8 5.8m0 -5.8l-5.8 5.8M384.0 520.2l5.8 5.8m0 -5.8l-5.8 5.8M385.3 522.3l5.8 5.8m0 -5.8l-5.8 5.8M386.7 524.9l5.8 5.8m0 -5.8l-5.8 5.8M388.1 525.4l5.8 5.8m0 -5.8l-5.8 5.8M389.4 525.4l5.8 5.8m0 -5.8l-5.8 5.8M390.8 526.4l5.8 5.8m0 -5.8l-5.8 5.8M392.2 527.1l5.8 5.8m0 -5.8l-5.8 5.8M393.6 525.6l5.8 5.8m0 -5.8l-5.8 5.8M394.9 529.1l5.8 5.8m0 -5.8l-5.8 5.8M396.3 529.1l5.8 5.8m0 -5.8l-5.8 5.8M397.7 529.9l5.8 5.8m0 -5.8l-5.8 5.8M399.0 530.1l5.8 5.8m0 -5.8l-5.8 5.8M400.4 529.2l5.8 5.8m0 -5.8l-5.8 5.8M401.8 529.4l5.8 5.8m0 -5.8l-5.8 5.8M403.1 528.4l5.8 5.8m0 -5.8l-5.8 5.8M404.5 530.1l5.8 5.8m0 -5.8l-5.8 5.8M405.9 528.2l5.8 5.8m0 -5.8l-5.8 5.8M407.3 528.1l5.8 5.8m0 -5.8l-5.8 5.8M408.6 528.4l5.8 5.8m0 -5.8l-5.8 5.8M410.0 528.0l5.8 5.8m0 -5.8l-5.8 5.8M411.4 528.4l5.8 5.8m0 -5.8l-5.8 5.8M412.7 527.0l5.8 5.8m0 -5.8l-5.8 5.8M414.1 526.3l5.8 5.8m0 -5.8l-5.8 5.8M415.5 526.3l5.8 5.8m0 -5.8l-5.8 5.8M416.8 525.5l5.8 5.8m0 -5.8l-5.8 5.8M418.2 525.8l5.8 5.8m0 -5.8l-5.8 5.8M419.6 523.9l5.8 5.8m0 -5.8l-5.8 5.8M421.0 526.1l5.8 5.8m0 -5.8l-5.8 5.8M422.3 524.6l5.8 5.8m0 -5.8l-5.8 5.8M423.7 522.3l5.8 5.8m0 -5.8l-5.8 5.8M425.1 522.0l5.8 5.8m0 -5.8l-5.8 5.8M426.4 521.6l5.8 5.8m0 -5.8l-5.8 5.8M427.8 520.8l5.8 5.8m0 -5.8l-5.8 5.8M429.2 519.0l5.8 5.8m0 -5.8l-5.8 5.8M430.5 520.4l5.8 5.8m0 -5.8l-5.8 5.8M431.9 519.9l5.8 5.8m0 -5.8l-5.8 5.8M433.3 517.0l5.8 5.8m0 -5.8l-5.8 5.8M434.7 516.1l5.8 5.8m0 -5.8l-5.8 5.8M436.0 513.6l5.8 5.8m0 -5.8l-5.8 5.8M437.4 512.5l5.8 5.8m0 -5.8l-5.8 5.8M438.8 512.1l5.8 5.8m0 -5.8l-5.8 5.8M440.1 510.7l5.8 5.8m0 -5.8l-5.8 5.8M441.5 511.4l5.8 5.8m0 -5.8l-5.8 5.8M442.9 508.0l5.8 5.8m0 -5.8l-5.8 5.8M444.2 506.5l5.8 5.8m0 -5.8l-5.8 5.8M445.6 508.5l5.8 5.8m0 -5.8l-5.8 5.8M447.0 506.0l5.8 5.8m0 -5.8l-5.8 5.8M448.4 503.6l5.8 5.8m0 -5.8l-5.8 5.8M508.6 610.9l5.8 5.8m0 -5.8l-5.8 5.8M510.0 611.0l5.8 5.8m0 -5.8l-5.8 5.8M511.3 614.5l5.8 5.8m0 -5.8l-5.8 5.8M512.7 616.6l5.8 5.8m0 -5.8l-5.8 5.8M514.1 615.3l5.8 5.8m0 -5.8l-5.8 5.8M515.5 613.9l5.8 5.8m0 -5.8l-5.8 5.8M516.8 611.6l5.8 5.8m0 -5.8l-5.8 5.8M518.2 611.3l5.8 5.8m0 -5.8l-5.8 5.8M519.6 609.9l5.8 5.8m0 -5.8l-5.8 5.8M520.9 610.5l5.8 5.8m0 -5.8l-5.8 5.8M522.3 607.6l5.8 5.8m0 -5.8l-5.8 5.8M523.7 606.4l5.8 5.8m0 -5.8l-5.8 5.8M525.0 603.8l5.8 5.8m0 -5.8l-5.8 5.8M526.4 602.7l5.8 5.8m0 -5.8l-5.8 5.8M527.8 604.0l5.8 5.8m0 -5.8l-5.8 5.8M529.2 604.9l5.8 5.8m0 -5.8l-5.8 5.8M530.5 605.0l5.8 5.8m0 -5.8l-5.8 5.8M531.9 605.4l5.8 5.8m0 -5.8l-5.8 5.8M533.3 605.6l5.8 5.8m0 -5.8l-5.8 5.8M534.6 603.1l5.8 5.8m0 -5.8l-5.8 5.8M536.0 599.0l5.8 5.8m0 -5.8l-5.8 5.8M537.4 597.3l5.8 5.8m0 -5.8l-5.8 5.8M538.7 594.0l5.8 5.8m0 -5.8l-5.8 5.8M540.1 590.2l5.8 5.8m0 -5.8l-5.8 5.8M541.5 590.2l5.8 5.8m0 -5.8l-5.8 5.8M542.9 591.1l5.8 5.8m0 -5.8l-5.8 5.8M544.2 591.1l5.8 5.8m0 -5.8l-5.8 5.8M545.6 593.6l5.8 5.8m0 -5.8l-5.8 5.8M547.0 595.5l5.8 5.8m0 -5.8l-5.8 5.8M548.3 595.0l5.8 5.8m0 -5.8l-5.8 5.8M549.7 599.0l5.8 5.8m0 -5.8l-5.8 5.8M551.1 601.4l5.8 5.8m0 -5.8l-5.8 5.8M552.4 601.6l5.8 5.8m0 -5.8l-5.8 5.8M553.8 599.9l5.8 5.8m0 -5.8l-5.8 5.8M555.2 599.7l5.8 5.8m0 -5.8l-5.8 5.8M556.6 599.5l5.8 5.8m0 -5.8l-5.8 5.8M557.9 598.4l5.8 5.8m0 -5.8l-5.8 5.8M559.3 597.4l5.8 5.8m0 -5.8l-5.8 5.8M560.7 595.7l5.8 5.8m0 -5.8l-5.8 5.8M562.0 590.5l5.8 5.8m0 -5.8l-5.8 5.8M563.4 588.7l5.8 5.8m0 -5.8l-5.8 5.8M564.8 586.1l5.8 5.8m0 -5.8l-5.8 5.8M566.1 585.3l5.8 5.8m0 -5.8l-5.8 5.8M567.5 586.3l5.8 5.8m0 -5.8l-5.8 5.8M568.9 588.6l5.8 5.8m0 -5.8l-5.8 5.8M570.3 595.9l5.8 5.8m0 -5.8l-5.8 5.8M571.6 599.5l5.8 5.8m0 -5.8l-5.8 5.8M573.0 597.2l5.8 5.8m0 -5.8l-5.8 5.8M574.4 596.0l5.8 5.8m0 -5.8l-5.8 5.8M575.7 596.8l5.8 5.8m0 -5.8l-5.8 5.8M577.1 597.5l5.8 5.8m0 -5.8l-5.8 5.8M578.5 599.3l5.8 5.8m0 -5.8l-5.8 5.8M579.8 592.3l5.8 5.8m0 -5.8l-5.8 5.8M581.2 588.8l5.8 5.8m0 -5.8l-5.8 5.8M582.6 589.2l5.8 5.8m0 -5.8l-5.8 5.8M584.0 587.1l5.8 5.8m0 -5.8l-5.8 5.8M585.3 585.2l5.8 5.8m0 -5.8l-5.8 5.8M586.7 584.9l5.8 5.8m0 -5.8l-5.8 5.8" fill="none" stroke="#34619c" stroke-width="1.5"/>
<path d="M106.3 55.1H172.0" stroke="#ff2a2a" stroke-width="1.6"/>
<path d="M103.9 77.8l4.8 4.8m0 -4.8l-4.8 4.8M120.3 77.8l4.8 4.8m0 -4.8l-4.8 4.8M136.8 77.8l4.8 4.8m0 -4.8l-4.8 4.8M153.2 77.8l4.8 4.8m0 -4.8l-4.8 4.8M169.6 77.8l4.8 4.8m0 -4.8l-4.8 4.8" fill="none" stroke="#34619c" stroke-width="1.5"/>
<text x="188.2" y="60.3" class="g" style="fill:#ff2a2a;stroke:#ff2a2a" textLength="94.8" lengthAdjust="spacingAndGlyphs">TIEGCM</text>
<text x="187.2" y="85.6" class="g" style="fill:#34619c;stroke:#34619c" textLength="77" lengthAdjust="spacingAndGlyphs">Radar</text>
<path d="M106.3 433.8H172.0" stroke="#ff2a2a" stroke-width="1.35"/>
<path d="M103.9 456.5l4.8 4.8m0 -4.8l-4.8 4.8M120.3 456.5l4.8 4.8m0 -4.8l-4.8 4.8M136.8 456.5l4.8 4.8m0 -4.8l-4.8 4.8M153.2 456.5l4.8 4.8m0 -4.8l-4.8 4.8M169.6 456.5l4.8 4.8m0 -4.8l-4.8 4.8" fill="none" stroke="#34619c" stroke-width="1.5"/>
<text x="188.2" y="439.0" class="g" style="fill:#ff2a2a;stroke:#ff2a2a" textLength="58.8" lengthAdjust="spacingAndGlyphs">CMIT</text>
<text x="187.2" y="464.3" class="g" style="fill:#34619c;stroke:#34619c" textLength="77" lengthAdjust="spacingAndGlyphs">Radar</text>
<text x="210.2" y="765.7" text-anchor="middle" class="l">2 April 2004</text>
<text x="730.2" y="765.7" text-anchor="middle" class="l">3 April 2004</text>
</svg>
</body></html>
